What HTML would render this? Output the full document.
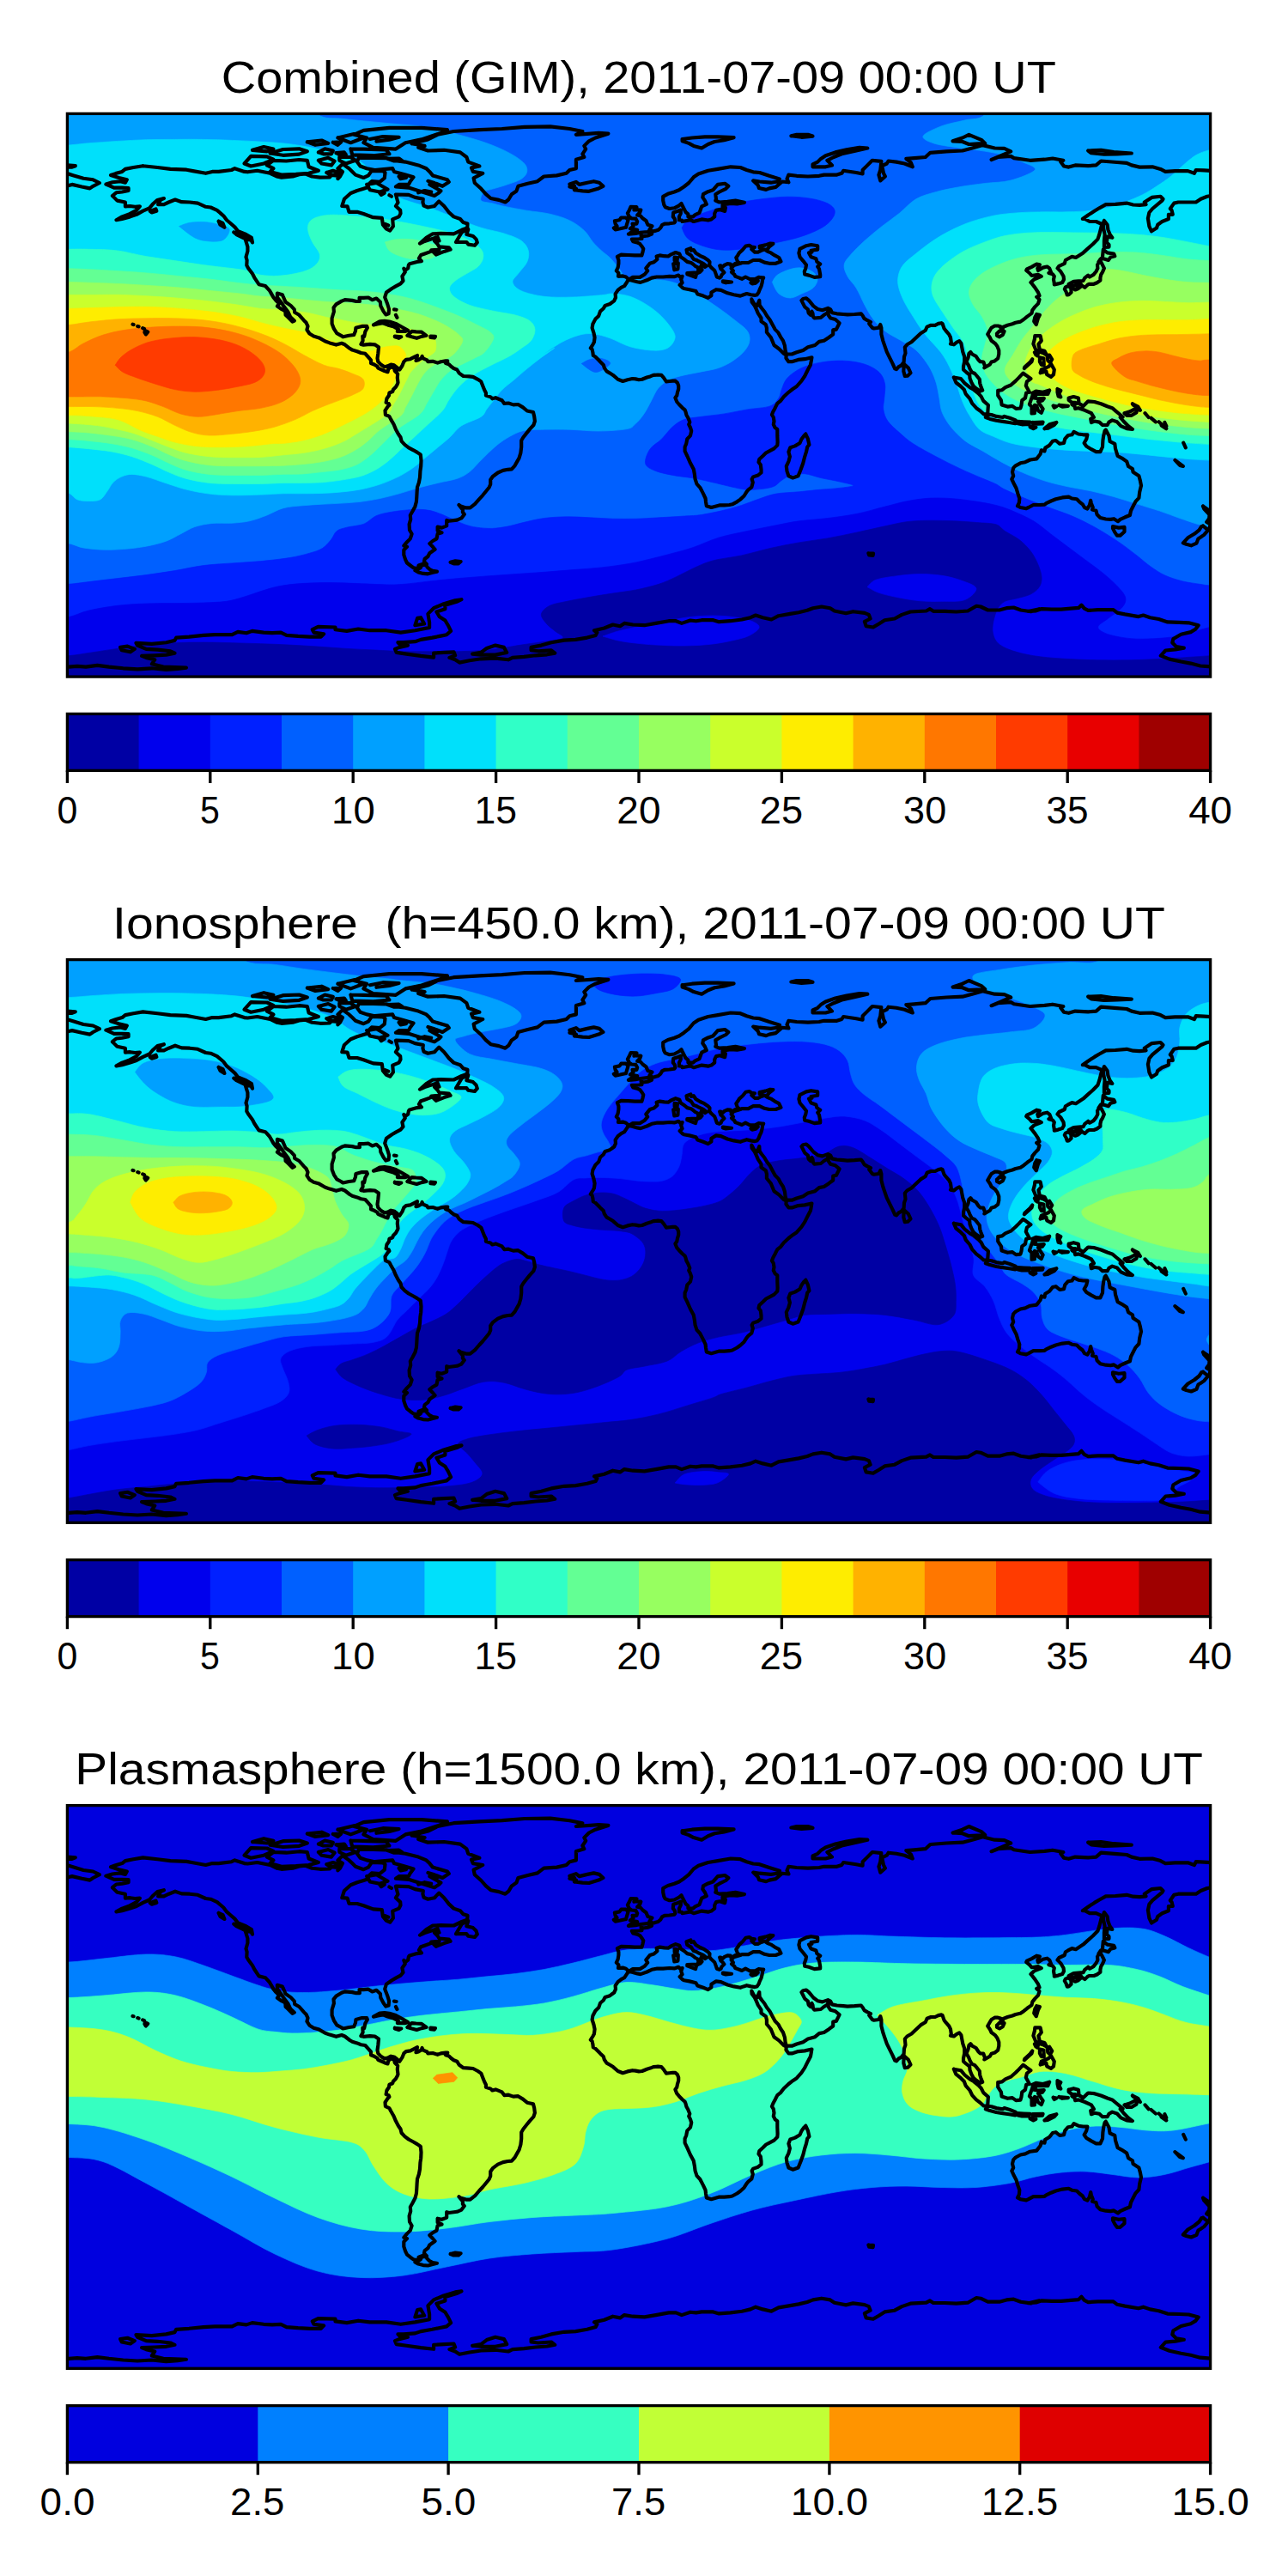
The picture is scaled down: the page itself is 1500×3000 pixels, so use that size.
<!DOCTYPE html>
<html><head><meta charset="utf-8"><title>TEC maps</title>
<style>html,body{margin:0;padding:0;background:#fff}svg{display:block}text{font-family:"Liberation Sans",sans-serif;fill:#000}</style></head>
<body>
<svg width="1500" height="3000" viewBox="0 0 1500 3000">
<rect width="1500" height="3000" fill="#fff"/>
<defs>
<clipPath id="mc"><rect x="0" y="0" width="1331.2" height="655.7"/></clipPath>
<path id="coast" d="M88.1,60.8L105,62.6L120,64.5L138.8,65.3L146.2,66.7L161.2,69.4L168.8,67.5L176.2,67.5L191.2,65.6L195,63.8L206.2,67.5L210,67.9L221.2,66.4L236.2,69.4L243.8,73.1L249.4,74.2L262.5,73.1L270,70.9L277.5,70.1L285,73.1L294.4,74.2L305.6,73.9L307.5,71.6L315,72.4L315,75.8L317.6,73.1L320.6,67.5L315,63.8L320.6,58.5L328.1,63.8L331.9,67.5L335.6,71.2L345,74.6L350.6,72L354.4,66.4L367.5,66.7L370.1,68.6L369.4,75L363.8,79.5L354.4,78.8L352.5,80.6L348.8,86.2L345,87.4L337.5,89.6L330,92.6L322.5,99.4L319.9,107.6L326.2,108L328.1,114.4L337.5,114.4L345,116.6L356.2,120.8L366.4,121.5L367.5,129.4L371.2,133.9L375.8,136.1L379.5,131.2L378.8,123L386.2,120L388.1,116.2L387.8,112.5L382.5,107.6L385.1,103.5L382.5,94.1L397.5,94.5L405,97.5L414.4,99.4L414,103.1L415.1,107.2L420,109.1L427.5,107.6L432.8,102L438.8,107.6L444.4,114.8L450,120L457.5,122.6L461.2,126.7L466.1,128.2L465.8,133.1L459.4,135.4L450,139.9L435,139.5L425.6,139.9L418.1,144.4L410.6,151.1L416.2,148.5L431.2,143.6L433.1,148.1L427.5,148.1L431.2,151.9L433.1,154.9L444.4,156L446.2,158.2L438.8,160.5L429.4,164.2L426.8,161.6L433.1,158.2L423.8,159L423.4,160.5L416.2,163.1L411.8,164.6L409.5,168.4L412.5,171.8L407.2,172.5L398.6,174.8L397.5,176.2L396.8,180L393.8,182.2L391.9,180.4L393.4,184.5L390,189.4L391.1,194.6L388.1,198L382.5,201L378,203.6L371.6,208.1L369.8,213.8L372.8,221.6L374.6,227.6L374.2,232.9L370.9,234L368.2,230.2L364.9,223.9L364.5,219.4L360,215.2L355.1,216.8L350.6,214.1L345,214.5L340.1,214.5L340.5,218.6L336.4,218.6L331.9,217.5L323.2,216.8L319.5,218.2L313.1,222L310.1,225.8L310.5,230.6L308.2,238.1L308.2,244.5L310.5,250.5L313.9,255.8L318.8,258.4L321,259.9L328.1,258.4L333.8,257.6L335.6,253.1L336,249.4L343.1,247.5L348.8,247.5L349.5,249.4L346.9,253.9L345.8,259.5L343.9,259.1L344.2,264.4L342,268.5L345,269.2L352.5,268.5L358.1,268.9L362.6,271.9L361.9,279.4L361.1,285L361.9,288.8L365.6,292.5L369.4,294.8L373.1,294L376.9,292.1L380.6,292.9L384.4,295.9M384.4,298.1L382.9,301.1L381.4,299.6L380.6,296.2L376.9,294.8L373.9,297.4L373.1,300.8L369.4,299.6L364.5,297.4L361.9,296.2L361.1,294.4L357.4,292.1L353.6,290.6L353.6,286.9L350.2,283.1L346.9,279.4L342,278.6L337.5,276.8L331.9,275.2L328.9,273.4L323.2,268.9L319.5,267.4L313.1,269.2L305.6,267L300.4,265.1L293.2,261L286.9,259.1L282,256.1L279,251.6L280.1,247.5L278.2,243.4L275.6,240.8L270,234.4L264.8,231.4L264.4,228L260.2,223.5L254.2,219.4L251.2,212.6L250.5,210.8L244.5,209.2L244.5,213.8L249.4,220.1L252,224.2L256.9,230.6L259.9,237L264.4,241.1L262.1,242.2L256.9,237L254.2,234.4L253.9,229.9L249.4,227.6L244.5,224.2L246.8,221.2L243,217.5L240,213.8L237.4,209.2L235.5,205.9L230.6,200.6L223.1,198.8L217.9,190.9L215.6,186.4L210.8,180L208.9,176.6L209.2,170.6L208.1,166.9L210,160.1L210,154.9L207.4,146.6L213.8,147L215.6,150L214.5,144.4L208.1,140.6L198.8,136.9L195,132L189.4,127.1L185.6,123.8L181.9,118.9L174.4,112.5L166.9,109.1L161.2,108.4L151.9,104.2L142.5,103.1L133.1,102.8L125.6,100.1L118.1,103.1L112.5,105.8L105.7,105.8L108.8,100.1L112.5,98.6L105,100.5L99.4,105.4L95.6,109.9L88.1,113.3L80.6,117.4L73.1,120L63.8,122.6L57,123.8L63.8,120L71.2,117.4L80.6,112.5L84.4,108L78.8,108.4L73.1,107.6L67.5,108L67.5,103.1L58.1,101.2L54.4,97.5L52.5,95.6L57,91.9L63.8,91.1L71.2,89.6L71.2,86.6L63.8,86.2L54.4,86.2L45,82.1L52.5,79.9L61.9,78.8L67.5,80.3L69.4,76.9L60,74.6L50.6,71.6L56.2,69.7L63.8,67.5L67.5,64.5L76.9,62.6L88.1,60.8M384.4,295.9L387,298.1L390,293.6L391.9,288.8L394.5,286.5L399.4,285.8L403.9,283.5L407.6,281.6L406.9,285L406.1,287.6L408.8,286.9L412.5,284.6L413.2,282.4L414.4,285L418.9,286.9L420,288.8L425.6,288.4L431.2,290.2L435,288.8L440.6,288L442.9,288L440.6,290.6L444.4,291.8L447,294.4L450,296.6L453.8,298.1L456.4,302.2L461.2,305.6L468,306L472.5,306.4L478.1,309.4L481.9,312L483.8,316.9L485.6,321.4L487.5,325.1L487.5,328.1L493.1,330L495,331.9L498.8,330.8L506.2,333.8L508.9,337.5L513.8,337.1L519.4,339L525,338.6L530.6,342L535.5,346.1L542.6,347.6L543.8,352.5L544.5,358.1L543,362.6L538.5,367.5L535.5,371.2L531,376.9L528.8,380.6L528.8,388.1L528,394.9L526.1,401.2L523.9,405L521.2,409.9L517.5,414L513,414.4L507.4,415.5L501.4,418.1L495.4,422.6L492.8,426.4L492.8,431.6L491.2,435.4L487.5,439.9L483.8,444.4L479.6,448.9L474.8,454.5L469.1,459L464.2,459L457.5,456.8L456,455.6L460.5,461.2L460.5,464.2L462.4,466.5L459,471L453.8,473.2L444.4,474.4L441.8,473.6L441.8,480L436.1,482.2L431.2,481.1L431.2,485.6L436.1,487.9L431.2,489.4L430.1,495L425.6,497.6L421.9,500.6L425.6,504.4L428.2,507.4L421.9,511.9L420,515.6L416.2,518.6L415.5,521.6L418.5,524.6L414.4,524.2L409.1,526.1L408.8,529.9L403.1,528.8L399.4,526.1L395.6,523.1L393.8,519.4L391.9,513.8L391.9,508.1L395.6,504.4L391.9,503.2L395.6,498.8L399.4,495L401.2,489.4L398.6,484.9L398.2,478.1L399.8,472.5L399.4,467.6L402,463.1L405,457.5L406.5,451.9L406.9,446.2L407.2,440.6L407.6,435L409.5,429.4L410.6,423.4L411,416.2L411.8,410.6L412.1,403.9L411.4,397.1L407.6,394.5L403.1,391.9L397.5,388.9L393,385.5L389.2,381.4L388.1,376.9L385.5,373.1L382.5,367.5L380.2,361.9L376.9,356.2L375,352.5L370.5,350.6L370.1,345.8L373.1,341.2L375,339.4L374.2,337.5L371.2,336.4L372,331.9L374.6,328.1L375,325.1L378.8,323.6L379.5,321.4L382.5,318.4L384.4,315L385.1,313.1L384.4,307.5L384.8,303L382.9,301.1L384.4,298.1L384.4,295.9M417.8,525.8L419.2,528L421.9,530.6L425.6,532.5L430.5,533.2L425.6,534.4L420,535.9L414.4,535.5L408.8,534L405,531.8L408.8,530.2L411.4,528.8L412.5,526.1L415.1,525.4L417.8,525.8M446.2,522.4L451.9,520.9L458.2,521.6L455.6,523.9L450,523.9L446.2,522.4M401.2,34.9L420,30L431.2,24.4L450,20.6L480,18.8L506.2,17.6L532.5,15.4L562.5,15L585,17.6L600,20.6L592.5,24.4L618.8,22.5L630,23.3L615,28.1L607.5,31.9L601.9,37.5L603.8,41.2L600,46.9L601.9,50.6L592.5,53.3L592.5,58.1L592.5,63.8L585,65.6L581.2,69.4L570,72L555,73.1L547.5,78.8L536.2,81.4L525,84.4L523.1,90L517.5,93.8L513.8,100.1L510,103.1L502.5,100.5L493.1,98.6L487.5,93.8L481.9,87.4L474.4,80.6L473.2,75L483.8,69.4L472.5,67.5L470.6,63L480,61.1L466.9,56.2L465,50.6L457.5,45L438.8,42.4L420,43.1L408.8,39.4L416.2,37.5L401.2,34.9M433.1,91.9L427.5,95.6L418.1,92.6L406.9,89.2L397.5,86.2L382.5,85.1L386.2,82.5L397.5,82.5L399.4,78.8L403.1,73.9L393.8,71.2L380.6,67.5L378.8,63.8L358.1,65.6L348.8,63.8L341.2,61.1L337.5,56.2L339.4,51.4L356.2,51.4L371.2,51.7L382.5,54.7L393.8,56.2L408.8,60L418.1,63.8L421.9,67.5L425.6,72L442.5,76.9L444.4,79.5L436.9,84.4L429.4,81.4L421.9,82.5L435,90L433.1,91.9M232.5,60L240,54.4L255,55.1L270,53.6L279.4,54.4L281.2,61.9L292.5,66.4L281.2,69.4L266.2,70.5L249.4,71.2L236.2,67.5L240,63.8L232.5,60M206.2,58.1L213.8,49.5L232.5,49.9L240,53.3L228.8,58.1L213.8,61.1L206.2,58.1M236.2,46.1L251.2,41.6L270,40.9L279.4,43.9L270,47.2L251.2,48.4L236.2,46.1M292.5,54.4L303.8,51.4L311.2,55.1L307.5,60L296.2,58.1L292.5,54.4M316.9,50.6L330,50.6L335.6,54.4L324.4,58.1L316.9,54.4L316.9,50.6M330,40.9L345,41.2L371.2,42L375,46.9L356.2,48.8L331.9,48L330,40.9M356.2,39.4L382.5,41.2L393.8,33.8L412.5,30L435,22.5L442.5,18.8L412.5,16.5L375,16.5L345,19.5L333.8,24.4L348.8,28.1L345,33.8L356.2,39.4M315,28.1L333.8,23.6L345,28.1L330,33.8L315,28.1M348.8,82.5L360,80.6L373.1,88.1L363.8,91.1L352.5,88.9L348.8,82.5M452.6,149.6L459.4,138L466.9,134.6L465,140.6L472.5,142.5L476.2,146.2L477.4,150L474.4,153.4L466.9,152.2L465,149.6L457.5,149.6L452.6,149.6M193.9,138L202.5,140.6L211.9,146.6L206.2,145.1L196.9,140.6L193.9,138M176.2,125.2L181.1,127.5L183,132.4L178.1,129.4L176.2,125.2M96.4,113.6L103.1,111L103.9,113.3L98.2,115.1L96.4,113.6M356.6,246L363.8,241.9L369.4,241.5L375,242.2L382.5,244.5L390,248.6L396.8,252.4L393.8,253.5L384.4,253.5L385.5,250.9L380.6,248.2L373.1,246L367.5,243.8L361.9,244.9L356.6,246M396,258.4L401.2,253.5L406.1,253.9L412.5,254.2L418.1,258.4L412.5,259.5L406.9,261.4L401.2,259.9L396,258.4M381.4,259.1L388.9,259.9L386.2,261.4L381.4,259.9L381.4,259.1M423,259.1L428.6,259.5L427.5,261L423,260.6L423,259.1M380.6,228L383.2,228.4M382.5,234.4L384,237.4M90.4,252.4L93.8,254.2L91.5,256.9L90,254.6L90.4,252.4M87.8,249.7L89.6,250.5M81.8,247.5L83.2,247.9M76.1,245.3L77.2,245.6M215.6,42.4L228.8,38.6L240,41.2L232.5,43.9L215.6,42.4M292.5,45L300,40.9L309.4,43.1L307.5,46.9L298.1,46.9L292.5,45M313.1,45.8L322.5,45L324.4,47.6L316.9,47.6L313.1,45.8M301.9,68.6L309.4,66.4L316.9,68.6L313.1,71.2L305.6,70.9L301.9,68.6M386.2,73.1L391.9,72.4L394.5,74.6L388.1,75.8L386.2,73.1M373.1,52.5L386.2,52.1L390,54.7L380.6,55.1L373.1,52.5M279.4,33L296.2,31.1L303.8,34.5L288.8,36.4L279.4,33M309.4,33.4L318.8,33L315,36.4L309.4,33.4M363.8,92.2L369.4,92.2L365.6,94.5L363.8,92.2M375,94.9L377.6,96.4M352.5,29.6L367.5,26.6L386.2,27.4L375,30.4L360,32.2M420,78.4L427.5,80.6L431.2,83.6M408.8,91.9L416.2,89.6L423.8,91.1M370.1,128.6L373.9,130.1M803.2,210.8L800.6,211.5L796.1,210.8L791.2,209.6L787.5,210.8L783.8,212.2L776.2,210.8L768.8,208.9L761.2,205.5L755.6,204.8L750,208.1L750,211.9L746.2,214.5L740.6,212.2L733.9,210L732,206.6L724.5,204.8L718.1,203.6L716.2,202.5L713.2,199.5L716.2,196.9L714.8,193.1L716.2,189.4L713.6,190.1L711.8,188.2L706.9,189.8L701.2,189.4L693.8,190.1L686.2,190.1L680.6,191.2L675,193.9L667.5,196.5L663.8,195.8L655.1,193.5L652.9,193.9L651.8,196.1L648.8,200.6L645,202.5L641.2,205.5L638.2,210L638.6,214.1L636.8,217.9L631.9,221.6L626.2,223.5L624.4,226.9L620.6,230.2L618.8,235.5L615,239.2L612,244.9L611.2,249.4L613.1,255.4L614.2,260.6L613.5,266.2L612,268.9L609.4,273L611.2,274.5L612,278.2L612.4,281.6L615,283.1L618.8,286.9L620.6,288.8L624.4,292.5L625.5,296.2L628.1,300L631.9,302.2L635.6,304.5L641.2,309.4L646.9,311.6L652.5,309.8L658.1,308.6L661.9,309L665.6,309.8L669.4,309.4L675,307.1L678.8,306L682.5,304.5L687.8,304.1L691.9,304.5L694.5,307.5L697.5,312L701.2,311.6L705,311.2L708,311.2L710.6,313.5L711.8,316.9L711.8,320.6L710.6,324.4L709.9,328.1L708,330.8L709.9,335.6L712.5,338.6L716.2,342.4L719.2,345L720,346.9L721.1,351L723,354.4L724.9,359.2L723.8,361.9L725.6,365.6L726.8,369.4L725.6,375L721.9,378.8L720.8,384.4L719.2,388.1L719.2,393L721.9,398.6L725.6,406.9L729.4,414L730.5,420L731.2,425.6L733.1,431.2L736.9,435.4L740.6,442.5L743.2,448.1L743.6,451.9L744.4,456.8L750,458.6L759.4,456L765,456L771,455.6L774.4,454.9L780,451.9L783.8,449.2L788.2,445.1L791.2,440.2L793.1,438L796.9,435L798.4,429.4L797.2,425.6L798.8,423L804.4,421.1L808.1,418.1L808.1,414.4L807.4,408.8L805.1,405.8L805.9,402.4L810,398.6L813.8,394.9L817.5,393L823.1,390L826.9,386.2L827.2,382.5L826.9,375L826.9,367.5L824.2,365.6L822.4,361.9L823.1,358.1L822.4,353.6L820.5,350.6L822,346.9L823.9,343.5L825,341.2L826.9,337.5L830.6,334.5L834.4,329.6L840,324.4L844.9,320.6L849.4,317.6L855,311.2L858.8,305.6L862.5,298.1L865.5,292.5L866.2,288.8L867,283.9L858.8,285.8L851.2,286.5L843.8,288.8L840,288.8L837,284.6L837.4,281.2L834.4,279.4L828.8,273.8L823.1,269.6L819.4,260.6L814.5,254.6L814.5,249.4L813.4,245.6L808.1,241.9L808.1,238.1L804.4,232.5L802.5,228L800.6,223.9L797.2,219.4L796.9,216L799.5,220.9L803.2,223.9L805.9,217.5M805.9,217.5L806.2,223.1L808.9,226.9L811.9,230.6L814.5,235.1L818.2,240L821.2,245.6L824.2,251.2L828,255L830.6,259.9L833.6,264.4L835.5,270L836.2,275.6L837.4,280.1L843.8,280.1L849.4,277.9L856.9,275.6L862.5,271.9L870.8,269.6L875.6,265.5L881.2,264.4L886.9,260.6L891.8,256.9L891.8,252L895.5,251.2L899.2,243.8L894.4,239.6L888.8,238.1L886.5,234.8L886.1,229.9L885,232.1L881.2,234.4L877.5,237.4L870,238.1L868.5,236.2L868.1,232.5L867,230.2L865.5,234.4L863.2,232.1L862.5,228L858.8,225L856.9,221.2L855,217.5L856.9,215.6L860.6,214.9L863.6,217.5L865.5,219.8L868.9,223.9L873.8,227.6L879.4,228.8L885.8,226.5L888.8,228L890.6,231.8L896.2,232.9L903.8,233.6L908.6,234L916.9,233.6L924.4,232.9L926.2,235.1L928.1,238.5L931.9,240.8L935.6,242.6L933.8,244.5L937.5,249.4L939.4,250.1L945,249.4L946.9,245.6L948,249.4L948,256.9L949.9,264.4L951.8,270L954.4,277.5L958.1,285L961.1,291L963.8,297L965.6,297.8L968.2,294.8L971.2,293.2L974.2,289.5L974.6,283.1L976.1,279L975.4,271.9L978,268.9L983.2,265.9L987.4,261.8L993.8,255.8L999.4,252.4L1001.2,248.2L1005.8,246.4L1010.6,246.4L1014.4,244.5L1018.1,243.8L1019.2,244.5L1021.1,250.1L1023.4,253.1L1026.8,256.9L1028.6,260.6L1029.4,266.2L1028.6,268.1L1032.4,268.9L1035.8,266.2L1038.8,264.8L1041,267.4L1041.8,271.9L1042.9,277.5L1044.8,283.1L1044.8,288.8L1043.6,294.4L1043.6,298.1L1047,301.1L1050.8,304.1L1051.1,308.2L1053,313.1L1055.2,317.2L1058.2,319.9L1063.1,323.2L1065.8,322.1L1064.2,318.4L1062.8,313.9L1062.4,309.4L1059.4,305.6L1056.8,302.6L1053.4,301.1L1051.1,297L1049.6,293.2L1047,288.8L1049.2,283.9L1050,279.4L1051.9,277.5L1053.8,280.1L1058.2,282.4L1061.2,286.9L1063.1,288.8L1066.9,289.1L1068.8,294.4L1068,295.9L1070.6,294.4L1074.4,292.1L1076.2,289.1L1080,288L1083.8,285L1084.9,280.1L1084.9,275.6L1083,270.8L1080.8,267.8L1076.2,264.4L1074.4,260.6L1071.8,256.9L1074.4,252.4L1076.2,249.4L1080,247.1L1083.8,247.1L1086.8,247.9L1087.5,251.6L1089.4,252L1089.4,248.6L1095,246.4L1100.6,244.9L1104.4,243.4L1110,242.2L1113.8,239.6L1117.9,236.2L1123.1,232.5L1123.9,228.8L1126.9,225L1130.6,221.2L1132.1,216.4L1128.8,213.4L1132.1,211.9L1130.6,208.1L1126.9,202.5L1123.1,197.6L1122,196.5L1126.1,192.8L1134.4,189.4L1130.6,187.5L1123.1,188.6L1120.5,185.6L1116.8,182.6L1117.5,181.1L1123.1,178.5L1128.8,175.1L1132.5,175.9L1129.9,180L1130.6,182.6L1136.2,179.2L1141.1,178.1L1143.8,180L1145.6,184.5L1143,185.6L1147.5,186.8L1149.4,189.4L1148.6,193.1L1149.4,197.6L1149.4,199.1L1153.9,198L1158.8,196.5L1160.6,193.1L1160.2,189.4L1156.9,183.8L1153.1,180L1155,177.4L1161.4,174.4L1162.5,170.6L1165.1,169.1L1170,166.5L1174.5,167.6L1183.1,162L1188,157.5L1194.4,151.9L1200,146.2L1201.9,140.6L1203.8,133.1L1204.9,128.6L1198.1,125.6L1190.6,125.6L1185,122.6L1182.4,122.6L1188.8,118.1L1196.2,113.3L1201.9,109.9L1209.4,105.8L1220.6,105.4L1233.8,104.2L1241.2,106.1L1248.8,106.5L1256.2,105.8L1254.4,103.1L1263,97.5L1273.1,96.4L1276.1,99.4L1275,101.2L1263.8,110.6L1260,115.1L1258.5,121.9L1260,131.2L1262.6,136.9L1268.6,133.1L1269.8,129.4L1275,125.6L1282.5,122.6L1282.5,117.4L1287.4,117.4L1286.2,112.5L1284.4,110.6L1288.9,104.2L1293.8,103.1L1298.6,103.1L1314.4,103.1L1320,99.4L1327.5,96.4L1338.8,94.5L1348.1,93.4L1347.4,88.1L1340.6,86.2L1344.4,84.4L1350,84M0,84L5.6,82.5L16.9,85.1L26.2,87L30,84.4L37.5,80.6L30,76.9L18.8,75.4L7.5,72L0,69.7M1350,69.7L1342.5,68.3L1335,66.7L1323.8,66L1314.4,65.6L1312.5,69.4L1305,66.7L1290,66.7L1278.8,67.5L1273.1,64.5L1263.8,61.9L1248.8,62.2L1239.4,60L1233.8,57.4L1222.5,56.6L1203.8,55.1L1198.1,60L1188.8,60.8L1173.8,60L1166.2,62.2L1160.6,61.1L1156.9,56.2L1159.9,54.4L1147.5,52.1L1138.1,53.3L1121.2,54.4L1102.5,51.7L1098.8,49.5L1083.8,50.6L1076.2,53.6L1087.5,48.8L1098.8,43.9L1091.2,40.5L1080,40.1L1066.1,36.7L1053.8,40.1L1042.5,43.1L1023.8,43.9L1005,45.4L999.4,50.6L986.2,51.7L976.9,52.5L982.5,57L984.4,61.9L975,58.1L965.6,56.2L956.2,55.1L954.4,58.1L948.8,60.8L950.6,69.4L952.5,73.1L946.9,78L945,71.2L946.9,65.6L948,55.5L937.5,54.4L931.9,60L926.2,65.6L926.2,70.1L918.8,68.6L903.8,66.4L901.9,69.4L896.2,71.2L881.2,71.2L875.6,72.4L862.5,73.1L849.4,72.4L840,71.2L838.1,75.8L840,79.9L832.5,79.1L825,85.5L817.5,87L813.8,88.5L805.5,86.6L804.4,83.3L798.8,78L806.2,79.1L819.4,80.3L826.9,79.1L829.5,76.1L817.5,72.4L806.2,68.6L798.8,67.9L791.2,65.6L783.8,62.6L772.5,61.9L757.5,64.5L746.2,66.4L735,70.1L729.4,73.9L723.8,80.6L718.1,85.1L712.5,88.9L706.9,91.1L699.4,93.4L693.8,96.4L693.8,101.2L694.9,106.1L696.4,108.8L701.2,110.6L706.9,109.9L712.5,106.9L715.1,104.6L716.2,106.9L718.1,110.6L720,114.4L723,117L723,120L728.6,120L731.2,117.8L736.1,115.5L737.6,111.4L738.8,108L744.4,105.4L742.5,101.2L739.9,97.5L740.6,93.8L746.2,90.8L751.9,88.9L754.9,85.5L757.5,82.5L765.8,81.4L769.9,84.4L766.9,87.4L759.4,91.1L754.9,93.8L755.6,99.4L754.9,101.2L759.4,103.1L768.8,102.4L778.1,101.2L783.8,102.4L788.6,103.5L780,105L772.5,104.6L767.6,105.4L763.1,106.1L763.1,109.1L766.5,109.5L765.8,113.6L759.8,111.7L755.6,112.5L753.8,116.2L753.8,120L750,123L746.2,124.1L744.8,123.8L738.8,123L729.4,125.6L725.6,123.8L720,124.9L716.2,125.6L715.5,124.1L712.5,123.8L712.5,120L714.4,116.2L714.4,112.1L710.6,113.6L705.8,115.1L705.4,120L707.2,122.2L708,125.6L706.9,127.1L701.2,127.9L695.6,128.2L692.6,129.8L690.8,133.1L688.1,135.4L684.4,136.5L681,137.2L680.6,140.2L675.8,142.1L670.5,142.9L668.2,141.8L669,145.5L665.6,145.9L657.4,146.2L658.9,148.9L664.5,150.4L666.8,151.5L669.4,154.9L670.9,157.5L670.1,161.2L669,165L660.8,165L653.2,164.6L645,164.2L640.5,166.5L642,170.6L642,174.4L641.2,179.2L639.4,183L642,185.6L641.6,189.4L646.9,189L650.6,190.1L654,193.1L658.5,190.5L666.8,190.5L672.4,187.1L675.8,183L673.9,180L678.4,174.4L683.2,172.9L687,169.5L686.2,166.1L690,165L695.2,165.8L699.8,166.1L703.1,163.9L708.4,161.6L712.9,163.1L714.4,166.9L718.9,169.9L721.9,172.5L726.4,173.6L728.6,175.1L731.2,177.4L734.2,178.9L735,181.9L733.9,185.6L737.2,184.1L739.1,181.9L737.2,179.2L738.8,176.2L742.5,178.5L744.4,177.4L740.6,174.4L735,171.8L733.1,170.6L729.4,169.5L726.4,165L721.9,162.4L721.1,158.6L726,156.8L726.4,159.4L729.4,158.6L732,162.4L736.9,165.4L741.8,167.6L746.2,170.6L748.1,172.5L747.8,176.6L750,179.2L753.8,182.6L754.5,184.5L755.6,187.5L756.4,190.1L759.4,191.2L761.2,190.1L762,187.9L763.9,186L765,184.9L763.1,182.6L760.9,180.8L759.8,177L761.2,177L763.1,178.5L765,176.6L768.8,174.8L772.5,175.1L773.2,177.8L775.5,176.2L778.1,174.4L783.8,174.4L780.8,172.5L780,170.6L778.9,167.6L780.8,165L782.6,162L786.4,158.6L790.1,154.1L794.2,153.4L796.9,155.2L800.6,155.6L796.9,157.9L800.6,161.2L804.4,161.2L808.1,159.4L811.9,158.2L806.2,156.4L806.2,154.5L813,153L818.6,151.1L822,151.5L817.5,154.9L815.6,157.5L813,158.6L815.6,160.5L819.4,162L823.9,165L828.8,167.6L831,172.1L825,174.4L817.5,174.4L811.9,173.2L806.2,170.6L798.8,170.6L793.1,173.6L785.6,173.6L783.8,174.4L776.2,176.6L773.2,180L775.5,183L773.6,184.5L777,187.5L777.8,189.4L780.8,190.5L785.6,192.4L789.8,190.1L795,192.8L801.4,192.4L805.1,190.5L809.2,190.9L810.8,190.9L809.6,193.5L809.2,196.9L808.1,201L806.2,205.1L805.1,208.1L803.2,210.8M853.1,157.5L860.6,153.8L866.2,152.6L873.8,153.8L873.8,158.2L866.2,159.4L867,161.2L863.6,162L866.2,166.9L871.9,168.8L873,172.5L876.8,175.1L873.8,178.1L875.6,180.8L876.8,187.5L876.8,189.8L870,190.5L863.6,188.2L858.8,187.1L858.4,183.8L859.9,180L860.6,176.2L856.9,171.4L853.1,166.9L852,162.4L853.1,157.5M653.6,140.2L661.9,139.5L667.5,138.4L675.8,137.6L680.2,136.1L678,135L681,130.9L676.1,129.4L675,127.1L674.2,124.9L670.1,121.9L667.5,118.9L663.8,118.1L666.8,115.1L667.9,112.1L661.9,111.7L660,112.1L663,108.8L656.2,108.4L654.4,112.5L652.5,115.9L654.4,120L657,121.9L661.9,122.2L663.8,125.6L663,128.2L658.1,128.2L659.2,131.2L655.5,133.9L660,134.6L663.8,135.4L658.9,136.5L653.6,140.2M650.6,132.4L651.8,128.2L653.2,123.8L650.6,121.1L645,121.1L643.1,123.8L637.5,124.9L638.2,128.2L640.1,130.9L636.4,133.1L638.2,135L643.9,133.9L650.6,132.4M590.6,88.9L600,90L607.5,90.4L618.8,87L624,84.4L619.5,80.3L613.1,78.8L605.6,80.3L596.2,82.5L592.5,79.5L585,82.1L590.6,84.4L585,85.1L592.5,87L590.6,88.9M716.2,29.6L727.5,28.1L742.5,27L757.5,27L776.2,27.8L765,30.8L753.8,32.6L746.2,35.6L738.8,40.1L729.4,37.5L723.8,34.5L716.2,31.9L716.2,29.6M868.1,61.9L873.8,61.9L883.1,61.9L890.6,60L885,54.4L892.5,50.6L901.9,46.9L918.8,43.1L931.9,40.1L922.5,39.4L907.5,42L894.4,45L883.1,48.8L877.5,52.5L873.8,56.2L868.1,58.9L868.1,61.9M843,25.9L855,27.4L868.1,26.2L862.5,24.4L849.4,24.4L843,25.9M1031.2,31.9L1042.5,28.1L1050,24.4L1065,30.8L1068.8,34.5L1050,35.6L1042.5,32.6L1031.2,31.9M1188.8,43.1L1203.8,42.4L1218.8,44.6L1239.4,46.1L1222.5,46.9L1207.5,47.2L1192.5,45.8L1188.8,43.1M0,60L9.4,60.8L5.6,62.2L0,62.2M1207.5,124.5L1211.2,129.4L1212,135L1214.2,140.6L1216.9,144.4L1211.2,143.2L1210.5,150L1213.1,152.6L1213.1,155.2L1207.5,155.6L1207.5,148.1L1208.2,140.6L1206.8,133.9L1206.4,128.2L1207.5,124.5M1201.1,172.5L1205.6,166.9L1206.4,158.2L1211.2,162L1218.8,163.1L1219.9,165.8L1215,167.2L1212.4,170.6L1206.8,168.8L1203.4,169.1L1201.1,172.5M1203.8,172.9L1205.6,176.2L1207.5,180L1205.6,184.5L1203.8,187.5L1203,191.2L1203,194.2L1199.2,196.9L1195.5,198.4L1189.9,198.4L1188,199.5L1185,202.5L1181.2,199.9L1180.1,198L1173.8,199.5L1170,200.6L1166.2,200.6L1166.2,198.4L1171.9,195.4L1177.5,195L1183.1,194.6L1185,191.2L1188.8,188.2L1190.6,190.1L1195.1,187.5L1198.1,183.8L1200,180L1199.6,176.2L1201.1,173.6L1203.8,172.9M1165.9,200.6L1168.9,203.2L1169.2,208.1L1166.2,210.8L1164.4,211.1L1163.2,207.4L1161.4,204.4L1162.5,202.1L1165.9,200.6M1171.9,200.6L1179.4,199.5L1180.1,201.4L1177.5,203.6L1173.8,205.1L1171.1,203.2L1171.9,200.6M1128.8,233.6L1132.5,234.4L1130.6,238.1L1128.4,245.6L1125.8,241.9L1126.9,237L1128.8,233.6M1082.6,256.1L1085.6,253.1L1091.2,253.5L1089.4,257.6L1085.6,259.9L1082.6,258.4L1082.6,256.1M974.2,291.4L979.5,296.2L982.1,301.9L978.8,305.2L975.4,305.6L973.9,300L974.2,294.4L974.2,291.4M859.9,373.1L862.5,378.8L864,385.5L861.8,388.1L860.6,393.8L858.8,399.4L856.9,406.9L854.2,414.4L851.2,421.9L844.9,424.1L840,421.9L838.1,416.2L837.4,410.6L840,405L841.5,399.4L840,393.8L841.9,388.9L847.5,387L853.1,383.6L855,379.1L858,375L859.9,373.1M721.9,185.6L733.1,184.9L731.6,190.5L721.9,186.8L721.9,185.6M705.8,174.8L711.4,174L711,181.1L706.9,181.9L705.8,174.8M707.2,167.2L710.6,167.6L709.9,172.9L707.2,171L707.2,167.2M763.5,195L773.6,196.1L766.9,196.9L763.5,195.8L763.5,195M796.1,196.9L804.4,194.6L801.8,197.2L797.6,198L796.1,196.9M1083.8,322.5L1088.6,321.8L1092.4,318.8L1098.8,316.1L1104.4,311.2L1108.1,307.5L1113,302.2L1116.4,304.5L1122,308.6L1117.5,312L1116.4,316.9L1120.5,324.4L1116.8,325.1L1115.6,331.1L1111.9,333.8L1111.1,339.4L1110,343.1L1104.8,343.5L1100.6,340.5L1095,341.2L1088.2,339L1087.5,333.8L1083.8,328.1L1083.8,322.5M1032.4,307.1L1040.6,308.6L1045.1,313.9L1051.1,318.8L1055.6,321.4L1061.2,325.9L1064.2,329.2L1066.9,334.5L1072.5,339.4L1072.1,345L1071.8,349.9L1067.2,349.9L1063.1,346.1L1058.6,342.8L1053.8,337.5L1051.1,331.9L1046.2,326.2L1044.4,321.4L1040.6,317.6L1035,313.1L1032.4,307.1M1069.5,353.6L1072.5,350.2L1076.2,350.6L1081.9,352.5L1089.4,353.6L1091.2,352.5L1097.6,354.4L1104.4,357L1104,360.8L1096.9,359.6L1089.4,358.5L1081.9,357.4L1074.4,355.5L1069.5,353.6M1107,358.5L1113.8,358.9L1121.2,359.2L1119.4,361.5L1111.9,361.9L1107,360.8L1107,358.5M1124.2,359.6L1136.2,359.2L1135.5,361.1L1125,361.5L1124.2,359.6M1138.1,366.8L1143.8,361.9L1152,359.6L1149.4,362.6L1141.9,366.4L1138.1,366.8M1121.2,363.8L1128,365.2L1125,366.8L1121.2,364.9L1121.2,363.8M1124.2,325.1L1128,323.2L1136.2,324.4L1143.8,322.1L1141.9,326.6L1136.2,326.6L1128.8,326.6L1125.8,331.1L1130.6,331.9L1137.4,331.5L1135.5,334.1L1130.6,335.2L1133.6,340.1L1136.2,343.9L1134.4,348.4L1130.6,345.8L1128.8,340.1L1126.5,339.4L1126.5,348.8L1123.1,349.1L1123.1,341.2L1120.5,338.6L1122.4,333L1124.2,328.1L1124.2,325.1M1153.1,320.6L1156.9,322.5L1155,326.2L1156.9,330L1154.2,329.2L1153.1,324.4L1153.1,320.6M1155,339.4L1165.5,340.5L1158.8,341.2L1155,339.4M1148.2,340.1L1152,340.9L1149.4,342.4L1148.2,340.1M1166.2,331.1L1171.9,329.6L1177.5,331.1L1178.2,337.5L1183.1,340.5L1188.8,334.9L1196.2,335.6L1203.8,337.9L1211.2,340.9L1216.9,342.8L1221.8,346.9L1226.2,350.6L1229.2,353.2L1226.2,353.6L1230,358.1L1235.6,363.8L1240.5,367.5L1233.8,366.8L1227,363.8L1222.5,358.9L1216.9,357L1213.1,359.2L1211.2,362.6L1205.6,362.6L1201.9,359.2L1196.2,358.1L1192.5,359.6L1191.8,355.5L1195.5,353.6L1192.5,348.8L1185,345.4L1177.5,342.8L1173.8,343.5L1173,340.5L1170,338.6L1175.6,337.5L1173.8,336.4L1170,336.4L1166.2,333.4L1166.2,331.1M1231.1,348.8L1237.5,346.9L1243.1,343.9L1246.1,344.2L1245,348L1239.4,351.4L1233.8,351.4L1231.1,348.8M1240.5,337.9L1246.9,341.2L1249.5,345.4L1247.6,343.1L1241.2,339L1240.5,337.9M1255.1,348.8L1259.2,353.6M1262.2,354.4L1267.5,358.9M1271.2,358.9L1276.9,364.1M1274.2,363L1279.9,366.8M1278,359.6L1279.9,363.8M1299.8,383.2L1302.4,388.9M1290,403.5L1299.4,410.6L1295.6,409.5L1290,403.5M1126.9,258.8L1133.2,258.8L1134.4,264.4L1131,268.5L1132.5,274.9L1138.1,276.4L1140.4,280.9L1136.2,278.6L1130.6,276.8L1127.6,274.5L1126.9,272.6L1125,268.1L1126.5,262.5L1126.9,258.8M1145.6,291.4L1149.4,298.1L1148.6,303.8L1145.6,306.4L1140.8,303.8L1140,300L1133.2,301.9L1134.4,298.1L1138.9,296.2L1143,294.4L1145.6,291.4M1143.8,281.2L1146.8,286.1L1144.5,289.9L1141.9,287.6L1141.1,281.6L1143.8,281.2M1132.5,283.9L1137,285L1137.4,292.5L1134.4,292.5L1132.5,288.8L1132.5,283.9M1114.5,296.6L1123.1,288.8L1123.9,285.8L1121.2,289.5L1114.9,295.1L1114.5,296.6M1126.5,277.9L1130.6,279L1129.9,282L1128,280.9L1126.5,277.9M1209.4,368.2L1213.1,375L1214.2,381.8L1219.9,384.4L1220.6,390L1223.2,398.6L1228.1,401.2L1233.8,405L1235.6,410.6L1240.5,413.6L1241.2,417.4L1248,421.9L1249.5,427.5L1250.6,433.1L1248.8,440.6L1248,447.4L1244.2,451.5L1242,455.6L1238.6,462.4L1237.5,467.6L1231.9,469.9L1226.2,472.5L1223.6,474.8L1218.8,471.8L1215,472.5L1209.4,472.1L1203,470.6L1199.2,466.9L1198.1,462.4L1193.6,461.2L1194.4,458.6L1192.5,453.8L1191.8,450.4L1190.6,455.6L1188,460.1L1184.6,458.6L1182.4,454.9L1178.6,451.9L1175.6,448.9L1170,448.1L1166.2,446.2L1158.8,447L1151.2,448.9L1145.6,451.1L1140,453.8L1138.1,455.2L1132.5,455.6L1125,455.6L1119.4,458.6L1116.8,459.8L1110,458.6L1106.6,456.8L1108.5,453L1108.9,448.1L1107,442.5L1105.1,436.1L1102.5,431.2L1099.9,425.6L1101.8,421.9L1100.6,417.4L1101.8,412.5L1104.4,409.9L1110,406.9L1115.6,405.8L1121.2,403.1L1128.8,402L1133.2,396.4L1134.4,391.9L1138.1,393L1138.9,389.2L1143.8,386.2L1147.5,381.4L1151.2,380.6L1155.8,384.4L1160.6,383.6L1161.8,378.8L1165.5,374.6L1170,373.9L1172.2,370.5L1177.5,373.1L1183.1,373.9L1188,373.9L1186.9,378.8L1184.2,383.6L1186.9,387.4L1192.5,390.8L1198.1,393.8L1203,393.8L1205.6,388.1L1206,380.6L1206.8,375L1208.2,369.4L1209.4,368.2M1217.6,480.7L1224.4,482.2L1231.1,481.5L1231.1,486.8L1226.2,491.2L1222.5,491.2L1219.9,487.5L1217.6,483L1217.6,480.7M1322.6,457.1L1328.6,461.2L1333.1,465L1335,469.1L1342.5,469.1L1343.6,472.5L1338.8,475.5L1338,480L1332.4,484.1L1330.1,483L1331.2,478.1L1326.8,475.5L1329.8,471.4L1330.1,466.9L1323.8,460.1L1322.6,457.1M1322.6,480L1328.6,484.9L1323.8,490.5L1320,493.1L1317,495L1315.1,500.2L1308.8,502.9L1303.1,501.4L1299.4,499.9L1305,493.9L1312.5,489.4L1318.1,484.9L1320.8,480.7L1322.6,480M933,511.9L938.6,512.2L938.2,514.5L933.8,514.1L933,511.9M1.6,644.2L11.6,643.5L21.6,644.2L35,642.5L48.4,644.2L65,645.9L81.7,646.9L98.4,645.9L115.1,647.6L128.5,646.6L138.5,645.2L111.8,644.2L98.4,640.9L101.8,635.9L91.8,633.5L86.7,631.5L101.8,630.9L115.1,630.2L125.1,628.2L120.1,625.9L105.1,624.2L91.8,623.5L81.7,619.2L80.1,616.5L98.4,617.5L115.1,615.8L125.1,613.5L126.8,610.2L141.8,609.2L158.5,607.5L171.9,606.8L191.9,606.8L198.6,603.5L208.6,604.8L215.3,602.5L228.6,604.2L238.6,604.8L248.7,604.2L255.3,607.5L268.7,608.5L282.1,609.2L295.4,609.2L298.7,605.8L287.1,604.2L285.4,600.8L292.1,597.5L312.1,598.1L312.1,600.8L325.5,602.5L338.8,600.1L352.2,601.8L371.6,601.8L388.3,604.2L405,601.8L421.7,598.5L421.7,592.5L420,582.5L426.7,575.8L438.4,570.8L451.7,566.8L459.1,565.8L453.4,568.4L440,572.4L440,576.8L430,580.1L433.4,585.8L440,590.1L443.4,595.8L446.7,602.5L441.7,606.8L435,608.2L425,610.2L411.7,612.5L405,614.8L391.6,615.8L385,615.8L388.3,619.2L396.6,619.2L386.6,621.5L381.6,623.5L383.3,627.5L395,629.2L411.7,631.5L426.7,633.2L426.7,628.2L438.4,627.5L450.1,626.9L451.7,630.9L445,633.5L451.7,635.9L456.7,639.2L468.4,636.9L481.8,634.9L498.5,634.2L513.5,635.9L518.5,633.5L531.8,632.5L545.2,630.9L558.6,629.9L567.9,628.2L563.6,624.9L548.5,625.9L540.2,624.9L540.2,621.5L551.9,619.2L563.6,615.8L578.6,613.2L591.9,612.5L605.3,610.2L615.3,607.5L617,604.2L613.6,601.8L625.3,599.1L635.3,595.1L643.7,596.8L648.7,593.5L658.7,595.1L672.1,595.8L685.4,593.5L700.4,590.8L708.8,590.8L715.5,593.5L725.5,590.1L732.2,590.8L738.8,589.8L752.2,589.8L758.9,591.8L772.2,590.8L785.6,589.1L795.6,586.8L801.6,584.1L810,586.8L820,589.1L828.3,584.8L841.7,582.5L851.7,580.8L861.7,578.4L868.4,575.8L878.4,574.1L888.4,575.8L893.4,579.1L906.8,581.8L915.1,579.8L928.5,581.5L933.5,583.5L935.2,588.1L928.5,591.5L930.2,596.8L938.5,598.1L945.2,594.1L951.9,589.8L963.5,588.1L971.9,583.5L981.9,580.1L1000.3,579.1L1004.6,576.8L1008.6,579.4L1022,579.4L1035.3,580.1L1048.7,579.1L1058.7,573.4L1063.7,574.1L1072.1,578.1L1085.4,578.1L1093.8,575.8L1102.1,575.1L1110.4,578.1L1122.1,579.8L1132.1,576.8L1119.1,579.6L1128.2,578.9L1134.9,576.7L1146.2,577.3L1157.4,577.3L1168.7,576.2L1177.7,575.5L1181.1,572.2L1184.4,576.2L1188.9,578.5L1200.2,577.8L1218.2,577.8L1222.7,581.2L1231.7,583L1247.5,585.7L1253.1,584.1L1261,586.8L1271.1,588.6L1281.3,592L1294.8,592.4L1306,592.9L1317.3,595.8L1313.9,600.3L1308.3,603.7L1297,606.4L1288,611.6L1286.9,616.1L1291.4,620.6L1300.4,622.2L1290.3,624L1279,625.1L1273.4,631.2L1283.5,635.2L1297,638.1L1308.3,640.2L1319.5,643.1L1335.3,644.2M61.7,621.5L70.1,620.2L78.4,623.5L73.4,626.9L63.4,624.9L61.7,621.5M471.8,629.2L481.8,627.5L488.4,622.5L498.5,619.2L508.5,621.5L511.8,627.5L498.5,630.2L481.8,630.2L471.8,629.2M405,595.8L407.7,587.5L411.7,586.8L415.7,594.1L405,595.8" fill="none" stroke="#000" stroke-width="4.17" stroke-linejoin="round" stroke-linecap="round"/>
</defs>
<g transform="translate(78.4,132.4)">
<g clip-path="url(#mc)">
<rect x="-2" y="-2" width="1335.2" height="659.7" fill="#0060ff"/>
<path d="M-28.4,549.5C-23.4,549.3 -7.3,548.6 1.6,547.9C10.5,547.2 15.5,546.3 25,545.2C34.4,544.1 47.2,542.5 58.4,541.2C69.5,539.9 80.6,538.7 91.8,537.2C102.9,535.7 114,534 125.1,532.2C136.3,530.4 147.4,527.6 158.5,526.2C169.7,524.7 180.8,524.3 191.9,523.5C203,522.7 214.2,522.2 225.3,521.2C236.4,520.1 249.2,518.7 258.7,517.2C268.1,515.6 275.7,513.7 282.1,511.8C288.4,510 292.9,508.8 297.1,506.1C301.2,503.5 304.3,499.5 307.1,496.1C309.9,492.8 310.7,488.5 313.8,486.1C316.8,483.7 320.2,483.2 325.5,481.8C330.7,480.4 339.8,480 345.5,477.8C351.2,475.5 354.3,470.6 359.7,468.3C365,466 371.7,464.9 377.7,463.8C383.7,462.7 390.4,462.1 395.7,461.6C401,461.1 404.7,460.8 409.2,460.9C413.7,461 418.2,461.3 422.7,462.2C427.2,463.2 431.7,465 436.2,466.7C440.7,468.5 445.2,470.9 449.7,472.8C454.2,474.8 458.7,477 463.2,478.5C467.7,480 471.5,481.1 476.8,481.8C482,482.6 488.8,483.1 494.8,483C500.8,482.8 506.8,481.8 512.8,480.7C518.8,479.6 523.7,477.8 530.8,476.2C537.9,474.6 546.8,472.2 555.3,471.1C563.8,470 573.1,469.5 582,469.4C590.9,469.3 599.8,470 608.7,470.4C617.6,470.8 626.5,471.5 635.4,471.8C644.3,472 653.2,472 662.1,471.8C671,471.5 678.8,471 688.8,470.4C698.9,469.9 714,469 722.2,468.4C730.5,467.9 731.3,468.2 738.4,467.1C745.5,466 757.3,463.6 765.1,461.7C772.9,459.9 778.7,458.1 785.1,456.1C791.5,454 796.8,451.6 803.5,449.4C810.2,447.2 817.1,444.2 825.2,442.7C833.3,441.2 843,441.2 851.9,440.4C860.8,439.5 870.8,438.4 878.6,437.7C886.4,437 892.5,436.8 898.6,436C904.8,435.3 915.3,434.3 915.3,433C915.3,431.8 904.8,429.8 898.6,428.4C892.5,426.9 885.3,425.9 878.6,424.4C871.9,422.9 864.7,419.8 858.6,419.3C852.5,418.9 846.3,420.4 841.9,421.7C837.4,423 835.2,424.9 831.9,427C828.5,429.1 826.9,432.6 821.9,434.4C816.9,436.2 808,437.3 801.8,437.7C795.7,438.2 793.5,438.4 785.1,437C776.8,435.6 761.2,431.5 751.8,429.4C742.3,427.2 736.2,425.7 728.4,424.4C720.6,423 712.2,422.4 705,421C697.8,419.6 690.3,418.2 685,416C679.7,413.8 674.4,411.8 673.3,407.7C672.2,403.5 675.2,395.7 678.3,391C681.4,386.2 687.2,383.7 691.7,379.3C696.1,374.9 700.6,368.4 705,364.6C709.5,360.7 712.8,358.2 718.4,356.2C723.9,354.3 730.6,354 738.4,352.9C746.2,351.8 756.2,350.9 765.1,349.5C774,348.2 782.9,346 791.8,344.5C800.7,343 812.4,342.8 818.5,340.5C824.6,338.3 826.3,334.4 828.5,331.2C830.8,328 830.2,325.1 831.9,321.2C833.5,317.3 834.7,312 838.6,307.8C842.5,303.6 848.6,299.2 855.2,296.1C861.9,293.1 870.3,290.8 878.6,289.5C887,288.1 897,287.4 905.3,287.8C913.7,288.2 922,289.6 928.7,291.8C935.4,294 941.5,297.4 945.4,301.1C949.3,304.9 951.1,309.5 952.1,314.5C953.1,319.5 951.7,326.2 951.4,331.2C951.1,336.2 949.7,340.1 950.4,344.5C951.1,349 952.3,353.4 955.4,357.9C958.5,362.3 963.8,366.8 968.8,371.2C973.8,375.7 978.2,379.9 985.5,384.6C992.7,389.3 1003.3,394.9 1012.2,399.6C1021.1,404.4 1030,408.8 1038.9,413C1047.8,417.2 1058.5,421.6 1065.6,424.7C1072.7,427.7 1077.1,429.2 1081.5,431.4C1085.9,433.5 1085.7,434.7 1091.9,437.7C1098.1,440.7 1109.7,445.8 1118.6,449.4C1127.5,453 1136.4,456.1 1145.3,459.4C1154.2,462.7 1163.1,465.5 1172,469.4C1180.9,473.3 1189.8,477.8 1198.7,482.8C1207.6,487.8 1217.6,494.2 1225.4,499.5C1233.2,504.8 1239.3,509.8 1245.5,514.5C1251.6,519.2 1256.6,524 1262.1,527.8C1267.7,531.7 1272.7,535.1 1278.8,537.9C1285,540.6 1292.2,542.9 1298.9,544.5C1305.5,546.2 1313.5,547 1318.9,547.9C1324.3,548.7 1324,549.1 1331.3,549.5C1338.5,550 1355.6,527.5 1362.3,550.6C1369,573.6 1605,664.8 1371.6,687.6C1138.2,710.4 196.6,687.6 -38.4,687.6Z" fill="#0020ff" stroke="#0020ff" stroke-width="0.7"/>
<path d="M715.7,132.8C716.7,131.4 718.5,127 721.8,124.5C725,122 729.5,120 735.1,117.8C740.7,115.6 747.9,113.3 755.1,111.1C762.4,108.9 769.6,106.4 778.5,104.4C787.4,102.5 798.5,100.7 808.6,99.4C818.6,98.2 829.1,96.9 838.6,96.8C848.1,96.7 857.5,97.5 865.3,98.8C873.1,100 880.6,102.1 885.3,104.4C890.1,106.8 892.9,109.7 893.7,112.8C894.5,115.8 892.9,119.5 890.4,122.8C887.8,126.1 884.5,129.5 878.7,132.8C872.8,136.2 863.6,140.1 855.3,142.8C846.9,145.6 837.5,147.6 828.6,149.5C819.7,151.5 810.8,153 801.9,154.5C793,156 783,158 775.2,158.5C767.4,159.1 761.8,158.9 755.1,157.9C748.5,156.8 740.7,154.4 735.1,152.2C729.5,150 725,147.7 721.8,144.5C718.5,141.3 716.7,134.8 715.7,132.8Z" fill="#0020ff" stroke="#0020ff" stroke-width="0.7"/>
<path d="M-28.4,591.3C-23.4,590.4 -7.3,588.4 1.6,586.3C10.5,584.2 15.5,580.8 25,578.6C34.4,576.4 47.2,574.3 58.4,572.9C69.5,571.6 80.6,571 91.8,570.6C102.9,570.1 114,570.4 125.1,570.2C136.3,570.1 148.5,570 158.5,569.6C168.5,569.2 177.4,569 185.2,567.9C193,566.8 198.6,564.9 205.3,562.9C211.9,561 218.6,558.3 225.3,556.2C232,554.2 237.5,552.1 245.3,550.6C253.1,549 262,547.9 272,547.2C282.1,546.5 294.3,546.2 305.4,546.2C316.5,546.2 327.7,546.8 338.8,547.2C349.9,547.6 363.3,548.4 372.2,548.5C381.1,548.7 384,548.5 392.2,547.9C400.5,547.2 411.3,545.7 421.8,544.5C432.2,543.4 444,542.2 455.1,541.2C466.3,540.2 477.4,539.4 488.5,538.5C499.7,537.7 510.8,537 521.9,536.2C533,535.4 544.2,534.7 555.3,533.9C566.4,533 577.6,532.1 588.7,531.2C599.8,530.3 610.9,529.7 622.1,528.5C633.2,527.3 645.4,525.6 655.5,523.8C665.5,522.1 673.8,519.8 682.2,517.8C690.5,515.8 697.7,513.9 705.5,511.8C713.3,509.7 720.1,508.2 728.9,505.1C737.7,502.1 747.9,497 758.4,493.8C768.9,490.6 780.7,488.5 791.8,486.1C802.9,483.7 815.2,481.4 825.2,479.4C835.2,477.5 841.9,475.8 851.9,474.4C861.9,473 874.2,472.5 885.3,471.1C896.4,469.7 907.6,468.3 918.7,466.1C929.8,463.9 942.1,460.2 952.1,457.7C962.1,455.2 969.9,452.7 978.8,451.1C987.7,449.4 996.6,448.2 1005.5,447.7C1014.4,447.3 1023.3,447.7 1032.2,448.4C1041.1,449.1 1050.7,450.5 1058.9,451.7C1067.1,453 1075,454.4 1081.6,456.1C1088.2,457.7 1091.3,458.7 1098.6,461.7C1105.8,464.8 1117.5,469.8 1125.3,474.4C1133.1,479.1 1138.6,484.4 1145.3,489.5C1152,494.5 1158.6,499.5 1165.3,504.5C1172,509.5 1178.7,514.5 1185.4,519.5C1192,524.5 1199.3,529.5 1205.4,534.5C1211.5,539.5 1217.6,544.8 1222.1,549.5C1226.5,554.3 1231,558.7 1232.1,562.9C1233.2,567.1 1232.1,570.4 1228.8,574.6C1225.4,578.8 1216.8,584 1212.1,587.9C1207.3,591.8 1200.4,594.9 1200.4,598C1200.4,601 1205.7,604.1 1212.1,606.3C1218.5,608.5 1229.9,610.5 1238.8,611.3C1247.7,612.1 1256.6,611.8 1265.5,611.3C1274.4,610.9 1284.4,610 1292.2,608.6C1300,607.2 1305.7,604.7 1312.2,603C1318.7,601.2 1322.9,599.9 1331.3,598C1339.6,596 1355.6,576.3 1362.3,591.3C1369,606.2 1605,671.5 1371.6,687.6C1138.2,703.7 196.6,687.6 -38.4,687.6Z" fill="#0000ed" stroke="#0000ed" stroke-width="0.7"/>
<path d="M-28.4,633C-23.4,632.7 -7.3,632.2 1.6,631.3C10.5,630.5 15.5,629.4 25,628C34.4,626.6 47.2,624.6 58.4,623C69.5,621.4 80.6,619.8 91.8,618.7C102.9,617.5 114,616.8 125.1,616.3C136.3,615.8 147.4,615.7 158.5,615.7C169.7,615.7 180.8,616 191.9,616.3C203,616.6 214.2,616.9 225.3,617.3C236.4,617.7 247.6,618.1 258.7,618.7C269.8,619.2 280.9,619.9 292.1,620.7C303.2,621.4 314.3,622.3 325.5,623C336.6,623.7 347.7,624.1 358.8,624.7C370,625.2 381.7,626.1 392.2,626.3C402.7,626.6 411.3,626.3 421.8,626.3C432.2,626.3 444,626.6 455.1,626.3C466.3,626.1 479.6,625.4 488.5,624.7C497.4,623.9 501.9,623 508.6,622C515.2,621 521.4,619.8 528.6,618.7C535.8,617.5 543.9,616.7 552,615.3C560,614 574.2,612.7 577,610.6C579.8,608.6 571.7,605.6 568.6,603C565.6,600.3 561.4,598 558.6,594.6C555.9,591.3 551.4,586.6 552,582.9C552.5,579.3 557,575.4 562,572.9C567,570.4 574.2,569.6 582,567.9C589.8,566.2 599.8,564.5 608.7,562.9C617.6,561.3 626.5,560 635.4,558.6C644.3,557.2 653.2,556.3 662.1,554.6C671,552.8 681,550.4 688.8,547.9C696.6,545.4 702.2,542.6 708.9,539.5C715.5,536.5 721.8,532.7 728.9,529.5C736,526.3 742.4,523 751.8,520.5C761.1,518 774,516.9 785.1,514.5C796.3,512.1 807.4,508.7 818.5,506.1C829.7,503.6 840.8,501.4 851.9,499.5C863,497.5 874.2,496.4 885.3,494.5C896.4,492.5 907.6,490.1 918.7,487.8C929.8,485.4 942.1,482.6 952.1,480.4C962.1,478.3 969.9,476.2 978.8,475.1C987.7,474 996.6,473.9 1005.5,473.8C1014.4,473.7 1023.3,474 1032.2,474.4C1041.1,474.8 1050.7,475.4 1058.9,476.1C1067.1,476.8 1076.1,476.8 1081.6,478.4C1087.1,480.1 1087.4,483.2 1091.9,486.1C1096.4,489.1 1103.6,492.2 1108.6,496.1C1113.6,500 1118.3,504.8 1121.9,509.5C1125.5,514.2 1128.2,519.5 1130.3,524.5C1132.4,529.5 1134.3,535.1 1134.6,539.5C1134.9,544 1134.1,547.9 1131.9,551.2C1129.8,554.6 1126.4,557.3 1121.9,559.6C1117.5,561.8 1110.2,563.2 1105.2,564.6C1100.2,566 1095.5,566 1091.9,567.9C1088.3,569.9 1085.8,572.4 1083.5,576.3C1081.3,580.2 1079.5,586.6 1078.5,591.3C1077.6,596 1077,600.5 1077.9,604.6C1078.7,608.8 1080.1,613 1083.5,616.3C1087,619.7 1091.6,622.2 1098.6,624.7C1105.5,627.2 1115.2,629.7 1125.3,631.3C1135.3,633 1146.4,633.8 1158.6,634.7C1170.9,635.5 1185.4,636.1 1198.7,636.4C1212.1,636.6 1225.4,636.6 1238.8,636.4C1252.1,636.1 1267.7,635.2 1278.8,634.7C1290,634.1 1296.8,633.6 1305.5,633C1314.3,632.5 1321.8,631.9 1331.3,631.3C1340.7,630.8 1355.6,620.3 1362.3,629.7C1369,639 1605,677.9 1371.6,687.6C1138.2,697.3 196.6,687.6 -38.4,687.6Z" fill="#0000a4" stroke="#0000a4" stroke-width="0.7"/>
<path d="M931.6,551.2C933.3,549.8 936.1,545 941.6,542.9C947.2,540.8 956.7,539.6 965,538.5C973.4,537.4 982.8,536.3 991.7,536.2C1000.6,536.1 1010.1,536.6 1018.4,537.9C1026.8,539.1 1035.1,541.4 1041.8,543.9C1048.5,546.4 1057.9,549.2 1058.5,552.9C1059.1,556.6 1051.8,563.7 1045.1,566.2C1038.5,568.7 1027.3,567.7 1018.4,567.9C1009.5,568.1 1000.6,568.1 991.7,567.2C982.8,566.4 972.8,564.5 965,562.9C957.2,561.3 950.5,559.8 945,557.9C939.4,555.9 933.9,552.3 931.6,551.2Z" fill="#0000ed" stroke="#0000ed" stroke-width="0.7"/>
<path d="M623.6,608.6C626.6,607.6 634.1,604.6 641.6,602.6C649.1,600.6 659.6,598.4 668.6,596.6C677.6,594.8 686.8,593.3 695.6,591.6C704.4,589.9 712.3,587.8 721.6,586.6C730.9,585.4 742.1,584.6 751.6,584.6C761.1,584.6 770.8,585.4 778.6,586.6C786.4,587.8 794.1,589.6 798.6,591.6C803.1,593.6 806.3,595.9 805.6,598.6C804.9,601.3 799.1,605.3 794.6,607.6C790.1,609.9 785.8,610.9 778.6,612.6C771.4,614.3 761.6,616.4 751.6,617.6C741.6,618.8 729.8,619.4 718.6,619.6C707.4,619.8 694.1,619.1 684.6,618.6C675.1,618.1 668.8,617.4 661.6,616.6C654.4,615.8 647.9,614.9 641.6,613.6C635.3,612.3 626.6,609.4 623.6,608.6Z" fill="#0000ed" stroke="#0000ed" stroke-width="0.7"/>
<path d="M261.6,-32.4C266.6,-26.8 281.6,-5.4 291.6,0.9C301.6,7.3 308.2,4.3 321.6,6C335,7.6 355,9.3 371.7,11C388.4,12.6 407.8,13.7 421.8,16C435.7,18.2 444,21.3 455.1,24.3C466.3,27.4 478.5,30.7 488.5,34.3C498.5,37.9 508,42.1 515.2,46C522.5,49.9 528.6,54.1 531.9,57.7C535.3,61.3 535.8,64.7 535.3,67.7C534.7,70.8 532.5,73.6 528.6,76.1C524.7,78.6 517.5,80.8 511.9,82.7C506.3,84.7 499.7,86.4 495.2,87.7C490.8,89.1 487.4,88.9 485.2,91.1C483,93.3 480.2,98.9 481.8,101.1C483.5,103.3 490.8,103.3 495.2,104.4C499.7,105.6 501.9,106.4 508.6,107.8C515.2,109.2 526.4,111.3 535.3,112.8C544.2,114.3 553.6,114.8 562,116.8C570.3,118.7 578.7,121.2 585.3,124.5C592,127.7 597.6,132 602,136.2C606.5,140.3 608.7,145.6 612.1,149.5C615.4,153.4 618.7,156.5 622.1,159.5C625.4,162.6 628.7,164.5 632.1,167.9C635.4,171.2 638.8,175.7 642.1,179.6C645.4,183.5 646.6,189 652.1,191.2C657.6,193.5 667.3,192.4 675,192.9C682.7,193.5 691.2,193.2 698.4,194.6C705.6,196 711.7,198.2 718.4,201.3C725.1,204.3 731.8,208.8 738.4,212.9C745.1,217.1 751.8,221.6 758.5,226.3C765.2,231 772.9,236.9 778.5,241.3C784.1,245.8 789.2,249.1 791.9,253C794.5,256.9 795.1,260.8 794.5,264.7C794,268.6 791.8,272.5 788.5,276.4C785.3,280.2 780.1,284.5 775.1,287.8C770.1,291.1 764.6,294 758.4,296.1C752.3,298.2 745.1,299.1 738.4,300.5C731.7,301.9 724.5,303 718.4,304.5C712.2,306 706.7,307 701.7,309.5C696.7,312 691.9,315.3 688.3,319.5C684.7,323.7 682.8,329.5 680,334.5C677.2,339.5 674.7,345.1 671.6,349.5C668.6,354 665,358.3 661.6,361.2C658.3,364.2 658.7,365.9 651.6,367.2C644.5,368.6 629.9,369.5 618.8,369.6C607.8,369.7 596.6,368.2 585.5,367.9C574.3,367.6 561.2,367.7 552.1,367.9C543,368.1 537,367.9 530.8,369.3C524.6,370.6 519.9,373.4 515,376C510.2,378.6 505.7,381.8 501.5,385C497.4,388.2 494,391.6 490.3,395.1C486.5,398.7 482.8,402.7 479,406.4C475.3,410.2 471.9,414.6 467.7,417.7C463.6,420.7 460.2,422.8 454.2,424.9C448.2,426.9 439.2,428.2 431.7,430C424.2,431.8 416.7,433.6 409.2,435.7C401.7,437.7 394.2,440.4 386.7,442.4C379.2,444.5 371.7,446.5 364.2,448.1C356.7,449.6 349.2,450.9 341.7,451.9C334.2,452.8 326.7,453.2 319.1,453.7C311.6,454.2 304.1,454.4 296.6,454.8C289.1,455.3 281.6,455.6 274.1,456.4C266.6,457.1 258.6,457.4 251.6,459.3C244.6,461.2 238.6,465.2 232,467.8C225.4,470.3 218.6,472.9 211.9,474.4C205.3,475.9 199.1,476.3 191.9,476.8C184.7,477.2 175.8,476.4 168.5,477.1C161.3,477.8 154.6,479.1 148.5,481.1C142.4,483.2 137.4,486.7 131.8,489.5C126.3,492.2 121.8,495.4 115.1,497.8C108.4,500.2 100.1,502.3 91.8,503.8C83.4,505.4 73.4,506.5 65,507.1C56.7,507.8 49.5,508.1 41.7,507.8C33.9,507.5 25,506.7 18.3,505.5C11.6,504.3 9.4,502 1.6,500.5C-6.2,498.9 -21.8,584.9 -28.4,496.1C-35.1,407.3 -36.7,55.7 -38.4,-32.4Z" fill="#00a0ff" stroke="#00a0ff" stroke-width="0.7"/>
<path d="M1081.6,-32.4C1079.4,-26.8 1074.6,-5.7 1068.5,0.9C1062.4,7.6 1053.5,5.4 1045.1,7.6C1036.8,9.8 1026.5,11.2 1018.4,14.3C1010.4,17.4 998.4,22.6 996.7,26C995.1,29.3 1002,32.1 1008.4,34.3C1014.8,36.6 1026.2,37.9 1035.1,39.3C1044,40.7 1052.9,41.3 1061.8,42.7C1070.7,44.1 1080.2,45.5 1088.5,47.7C1096.9,49.9 1105.5,53.1 1111.9,56C1118.3,59 1129.2,61.8 1126.9,65.4C1124.7,69 1108.3,75.1 1098.6,77.7C1088.8,80.3 1078.5,79.8 1068.5,81.1C1058.5,82.4 1047.9,83.7 1038.5,85.4C1029,87.1 1020.1,88.7 1011.8,91.1C1003.4,93.4 995.5,95.3 988.4,99.4C981.2,103.6 975.4,110.8 968.8,116.1C962.2,121.4 955.5,125.9 948.8,131.1C942.1,136.4 934.9,142.3 928.7,147.8C922.6,153.4 916.1,159.8 912.1,164.5C908,169.3 905.3,172 904.7,176.2C904.1,180.4 906.4,185.1 908.7,189.6C911,194 915.4,197.4 918.7,202.9C922.1,208.5 925.4,216.8 928.7,223C932.1,229.1 934.9,234.6 938.8,239.6C942.7,244.7 947.1,249.1 952.1,253C957.1,256.9 963.2,259.7 968.8,263C974.4,266.4 981,269.7 985.5,273C989.9,276.4 992.2,278.9 995.5,283.1C998.8,287.2 1002.7,292.6 1005.5,297.8C1008.3,303 1010.5,308.9 1012.2,314.5C1013.8,320.1 1014.4,325.6 1015.5,331.2C1016.6,336.8 1016.6,342.3 1018.8,347.9C1021.1,353.4 1024.4,359.1 1028.9,364.6C1033.3,370.1 1039.4,376.3 1045.5,381C1051.7,385.6 1058.4,388.5 1065.6,392.6C1072.7,396.8 1080.8,401.8 1088.5,406C1096.3,410.2 1103.6,414.1 1111.9,417.7C1120.3,421.3 1129.7,424.9 1138.6,427.7C1147.5,430.5 1156.4,432.4 1165.3,434.4C1174.2,436.3 1183.1,437.4 1192,439.4C1200.9,441.3 1209.8,443.6 1218.7,446.1C1227.6,448.6 1236.5,451.6 1245.5,454.4C1254.4,457.2 1263.8,460 1272.2,462.7C1280.5,465.5 1288.3,468.6 1295.5,471.1C1302.8,473.6 1309.6,476.1 1315.6,477.8C1321.5,479.4 1323.5,479.3 1331.3,481.1C1339,482.9 1355.6,484 1362.3,488.5C1369,492.9 1370,594.4 1371.6,507.6C1373.2,420.8 1371.6,57.6 1371.6,-32.4Z" fill="#00a0ff" stroke="#00a0ff" stroke-width="0.7"/>
<path d="M820.9,196.2C821.9,194.9 823.4,190.4 826.9,187.9C830.4,185.4 837.2,182.6 841.9,181.2C846.7,179.8 850.8,179 855.3,179.6C859.7,180.1 865.6,182.3 868.6,184.6C871.7,186.8 873.7,189.9 873.7,192.9C873.7,196 871.7,200.1 868.6,202.9C865.6,205.7 859.7,207.7 855.3,209.6C850.8,211.6 846.4,214.6 841.9,214.6C837.5,214.6 832.1,212.7 828.6,209.6C825.1,206.5 822.2,198.5 820.9,196.2Z" fill="#00a0ff" stroke="#00a0ff" stroke-width="0.7"/>
<path d="M598.8,291.1C600.5,290.3 604.9,287.1 608.8,286.1C612.7,285.1 618.3,284.3 622.2,285.1C626.1,286 633.3,288.5 632.2,291.1C631.1,293.8 621.1,301.1 615.5,301.1C609.9,301.1 601.6,292.8 598.8,291.1Z" fill="#0060ff" stroke="#0060ff" stroke-width="0.7"/>
<path d="M-28.4,38.7C-23.4,38.3 -7.3,37.4 1.6,36.7C10.5,35.9 15.5,35.1 25,34.3C34.4,33.6 47.2,32.7 58.4,32C69.5,31.3 80.6,30.7 91.8,30.3C102.9,30 114,30 125.1,30C136.3,29.9 147.4,29.8 158.5,30C169.7,30.2 180.8,30.5 191.9,31C203,31.4 214.2,31.9 225.3,32.7C236.4,33.4 247.6,33.9 258.7,35.3C269.8,36.7 282.1,38.9 292.1,41C302.1,43.1 311,45.5 318.8,47.7C326.6,49.9 333.5,51.6 338.8,54.4C344.1,57.1 348,60.8 350.5,64.4C353,68 350.8,71.9 353.8,76.1C356.9,80.2 362.5,85.4 368.9,89.4C375.3,93.4 383.4,96.8 392.2,100.1C401,103.4 411.1,105.7 421.6,109.4C432.1,113.2 445.1,118.9 455.1,122.8C465.2,126.7 472.9,130 481.8,132.8C490.8,135.6 500.8,137 508.6,139.5C516.3,142 523.9,144.5 528.6,147.8C533.3,151.2 535.8,155.4 536.9,159.5C538,163.7 537.2,168.4 535.3,172.9C533.3,177.3 528,182.3 525.2,186.2C522.5,190.1 518,192.9 518.6,196.2C519.1,199.6 522.5,203.5 528.6,206.3C534.7,209 545.3,211.7 555.3,212.9C565.3,214.2 577.6,213.9 588.7,213.6C599.8,213.3 614.3,211.9 622.1,211.3C629.9,210.6 629.9,209.3 635.4,209.6C641,209.9 648.8,210.7 655.5,212.9C662.1,215.2 669.4,219.1 675.5,223C681.6,226.9 687.2,231.3 692.2,236.3C697.2,241.3 703,248.6 705.5,253C708,257.5 708.3,259.7 707.2,263C706.1,266.4 703,270.9 698.9,273C694.7,275.1 689.4,276 682.2,275.7C674.9,275.4 663.8,273.8 655.5,271.4C647.1,269 639.3,263.9 632.1,261.4C624.8,258.8 618.2,256.9 612.1,256.3C605.9,255.8 601.5,256.3 595.4,258C589.2,259.7 582,262.7 575.3,266.4C568.6,270 556.6,278.6 555.3,279.7C554,280.8 567.9,272.3 567.3,273C566.7,273.8 556.8,280.3 551.5,284.3C546.3,288.2 541,292.4 535.8,296.7C530.5,301 524.9,306 520,310.2C515.1,314.3 510.2,317.7 506.5,321.4C502.7,325.2 500.5,328.9 497.5,332.7C494.5,336.4 491.1,340.6 488.5,344C485.9,347.3 486.7,349.7 481.7,353C476.8,356.2 464.8,359.6 458.7,363.6C452.7,367.7 449.7,373 445.2,377.1C440.7,381.3 436.2,384.6 431.7,388.4C427.2,392.1 422.7,395.9 418.2,399.6C413.7,403.4 410,407.2 404.7,410.9C399.5,414.7 393.4,418.7 386.7,422.2C379.9,425.6 371.7,429.1 364.2,431.6C356.7,434.2 349.2,436 341.7,437.5C334.2,439 326.7,439.9 319.1,440.6C311.6,441.4 304.1,441.7 296.6,442C289.1,442.3 281.6,442.4 274.1,442.4C266.6,442.5 259.7,442.2 251.6,442.4C243.5,442.6 235.2,443.4 225.3,443.7C215.3,444 201.9,444.6 191.9,444.4C181.9,444.2 174.1,443.8 165.2,442.7C156.3,441.6 146.8,439.8 138.5,437.7C130.1,435.6 122.9,432.9 115.1,430.4C107.3,427.9 98.4,424.4 91.8,422.7C85.1,421 79.8,420 75.1,420C70.3,420 67,421.1 63.4,422.7C59.8,424.2 56.1,426.6 53.4,429.4C50.6,432.1 49.2,436 46.7,439.4C44.2,442.7 42,447.4 38.3,449.4C34.7,451.3 29.4,451.1 25,451.1C20.5,451.1 15.5,451 11.6,449.4C7.7,447.8 8.3,445.9 1.6,441.7C-5.1,437.5 -23.4,427.2 -28.4,424.4Z" fill="#00e0fb" stroke="#00e0fb" stroke-width="0.7"/>
<path d="M1362.3,34.3C1357.1,35.6 1339,39.8 1331.3,42C1323.5,44.2 1320.4,45.1 1315.6,47.7C1310.7,50.3 1307.2,53.5 1302.2,57.7C1297.2,61.9 1291.1,68.3 1285.5,72.7C1279.9,77.2 1274.4,80.8 1268.8,84.4C1263.3,88 1258.2,91.4 1252.1,94.4C1246,97.5 1238.8,100.3 1232.1,102.8C1225.4,105.3 1219.9,107.7 1212.1,109.4C1204.3,111.2 1194.3,112.6 1185.4,113.5C1176.5,114.3 1167.6,114.3 1158.6,114.5C1149.7,114.6 1140.8,114.3 1131.9,114.5C1123,114.6 1114.1,114.7 1105.2,115.5C1096.3,116.2 1087.4,117 1078.5,118.8C1069.6,120.6 1060.2,123.2 1051.8,126.1C1043.5,129 1035.7,132.5 1028.4,136.2C1021.2,139.8 1015.1,143.4 1008.4,147.8C1001.7,152.3 994.2,158.1 988.4,162.9C982.5,167.6 976.8,171.8 973.4,176.2C969.9,180.7 968.5,185.1 967.7,189.6C966.9,194 967.1,197.9 968.4,202.9C969.6,207.9 972.2,214.1 975,219.6C977.8,225.2 981.2,230.2 985,236.3C988.9,242.4 993,249.4 998.4,256.3C1003.8,263.3 1012.4,271.4 1017.2,277.8C1022,284.1 1024.1,288.3 1027.2,294.5C1030.2,300.6 1033,307.8 1035.5,314.5C1038,321.2 1039.7,328.4 1042.2,334.5C1044.7,340.6 1047.2,345.7 1050.6,351.2C1053.9,356.7 1057.5,363.5 1062.2,367.6C1066.8,371.7 1072.5,373.3 1078.5,375.9C1084.6,378.6 1090.8,381.6 1098.6,383.6C1106.3,385.7 1116.4,387.1 1125.3,388.3C1134.2,389.5 1143.1,390.2 1152,391C1160.9,391.7 1169.8,392.2 1178.7,392.6C1187.6,393.1 1196.5,393.3 1205.4,393.6C1214.3,394 1223.2,394.3 1232.1,395C1241,395.6 1249.9,396.8 1258.8,397.6C1267.7,398.5 1276.6,399.5 1285.5,400.3C1294.4,401.2 1304.6,402.1 1312.2,402.7C1319.8,403.2 1322.9,403.3 1331.3,403.7C1339.6,404 1357.1,404.8 1362.3,405Z" fill="#00e0fb" stroke="#00e0fb" stroke-width="0.7"/>
<path d="M130.1,131.1C132.1,130.5 137.1,128 141.8,127.1C146.6,126.3 153,125.9 158.5,126.1C164.1,126.4 170.2,127.4 175.2,128.8C180.2,130.2 187.5,131.5 188.6,134.5C189.7,137.5 185.8,144.5 181.9,146.8C178,149.2 170.8,148.9 165.2,148.5C159.6,148.1 154.4,147.4 148.5,144.5C142.7,141.6 133.2,133.4 130.1,131.1Z" fill="#00a0ff" stroke="#00a0ff" stroke-width="0.7"/>
<path d="M-28.4,158.5C-23.4,158.4 -7.3,158 1.6,157.9C10.5,157.7 15.5,157.6 25,157.9C34.4,158.1 47.2,158.1 58.4,159.5C69.5,160.9 80.6,164.3 91.8,166.2C102.9,168.1 114,169.5 125.1,171.2C136.3,172.9 147.4,174.7 158.5,176.2C169.7,177.7 183.6,179.1 191.9,180.2C200.3,181.3 203,181.6 208.6,182.9C214.2,184.2 219.2,186.9 225.3,187.9C231.4,188.9 238.6,189.2 245.3,188.9C252,188.6 259.2,187.5 265.4,186.2C271.5,185 277.6,183.5 282.1,181.2C286.5,179 290.1,175.9 292.1,172.9C294,169.8 294.8,166.8 293.7,162.9C292.6,159 287.6,154 285.4,149.5C283.2,145.1 280.9,140.1 280.4,136.2C279.8,132.3 280.1,128.8 282.1,126.1C284,123.5 287.1,121.5 292.1,120.1C297.1,118.7 301.6,117.6 312.1,117.8C322.6,118 342.3,119.7 355,121.1C367.7,122.5 377.2,124.2 388.4,126.1C399.5,128.1 411.7,130.6 421.8,132.8C431.8,135 440.7,137 448.5,139.5C456.3,142 462.9,144.8 468.5,147.8C474.1,150.9 479.2,154.5 481.8,157.9C484.5,161.2 484.7,164.5 484.2,167.9C483.6,171.2 481.7,174.8 478.5,177.9C475.3,180.9 469.6,183.5 465.2,186.2C460.7,189 455.1,191.8 451.8,194.6C448.5,197.4 445.4,199.9 445.1,202.9C444.8,206 446.2,209.6 450.1,212.9C454,216.3 461,220.2 468.5,223C476,225.7 486.3,227.7 495.2,229.6C504.1,231.6 514.7,232.7 521.9,234.6C529.1,236.6 534.8,238.5 538.6,241.3C542.4,244.1 544.3,247.6 544.6,251.3C544.9,255.1 542.9,260.4 540.3,264C537.7,267.6 533.1,270 529,273C524.9,276 520.4,279.2 515.5,282C510.6,284.8 505,287.3 499.7,289.9C494.5,292.5 488.9,295.2 484,297.8C479.1,300.4 474.6,302.9 470.5,305.7C466.3,308.5 462.6,311.5 459.2,314.7C455.8,317.9 452.8,321.4 450.2,324.8C447.6,328.2 445.7,331.4 443.4,334.9C441.2,338.5 440.5,341.8 436.7,346.2C432.9,350.6 425.8,356.4 420.5,361.4C415.1,366.3 409.6,371.5 404.7,376C399.8,380.5 396.1,383.9 391.2,388.4C386.3,392.9 380.7,398.7 375.4,403C370.2,407.3 365.3,411.1 359.7,414.3C354,417.5 348.4,420.1 341.7,422.2C334.9,424.2 326.7,425.5 319.1,426.7C311.6,427.9 304.1,428.8 296.6,429.4C289.1,429.9 281.6,429.9 274.1,430C266.6,430.2 259.7,429.9 251.6,430C243.5,430.2 235.2,430.9 225.3,431C215.3,431.2 201.9,431.2 191.9,431C181.9,430.9 174.1,431 165.2,430C156.3,429 146.3,427.1 138.5,425C130.7,423 125.1,420.5 118.5,417.7C111.8,414.9 105.7,411.4 98.4,408.3C91.2,405.3 82.9,401.8 75.1,399.3C67.3,396.9 60,395.1 51.7,393.6C43.3,392.1 33.3,391.2 25,390.3C16.6,389.4 10.5,388.9 1.6,388.3C-7.3,387.7 -23.4,387.2 -28.4,387Z" fill="#30ffc7" stroke="#30ffc7" stroke-width="0.7"/>
<path d="M1362.3,159.5C1357.1,158.7 1340.7,156.2 1331.3,154.5C1321.8,152.8 1314.3,151.2 1305.5,149.5C1296.8,147.8 1287.7,145.9 1278.8,144.5C1269.9,143.1 1261,142 1252.1,141.2C1243.2,140.3 1234.3,139.9 1225.4,139.5C1216.5,139.1 1207.6,139 1198.7,138.8C1189.8,138.7 1180.9,138.6 1172,138.5C1163.1,138.4 1154.2,138.1 1145.3,138.2C1136.4,138.2 1127.5,138.2 1118.6,138.8C1109.7,139.5 1100.2,140.4 1091.9,142.2C1083.5,143.9 1076.3,146.6 1068.5,149.5C1060.7,152.4 1052.4,155.6 1045.1,159.5C1037.9,163.4 1030.7,168.4 1025.1,172.9C1019.5,177.3 1014.8,181.8 1011.8,186.2C1008.7,190.7 1007.3,195.1 1006.7,199.6C1006.2,204 1006.5,207.9 1008.4,212.9C1010.4,217.9 1014.5,223.5 1018.4,229.6C1022.3,235.8 1027.3,243 1031.8,249.7C1036.2,256.3 1042,261.1 1045.1,269.7C1048.3,278.3 1048.8,292 1050.5,301.1C1052.2,310.3 1053.3,317.8 1055.5,324.5C1057.7,331.2 1059.7,336.5 1063.5,341.2C1067.3,345.9 1072.7,350 1078.5,352.9C1084.4,355.8 1091.4,357.5 1098.6,358.6C1105.7,359.6 1114.9,358.3 1121.6,359C1128.3,359.6 1133,361.3 1138.7,362.4C1144.4,363.5 1150.1,364.8 1155.8,365.8C1161.5,366.8 1167.1,367.6 1172.8,368.4C1178.5,369.2 1184.2,369.9 1189.9,370.6C1195.6,371.3 1201.3,372 1207,372.6C1212.7,373.3 1218.4,374 1224.1,374.7C1229.8,375.4 1235.5,376.2 1241.2,376.9C1246.9,377.6 1252.6,378.3 1258.2,379C1263.9,379.6 1269.6,380.1 1275.3,380.7C1281,381.2 1286.7,381.9 1292.4,382.4C1298.1,382.9 1303.4,383.3 1309.5,383.7C1315.6,384.2 1317.7,384.4 1329.1,384.9C1340.5,385.5 1369.7,386.8 1377.8,387.2Z" fill="#30ffc7" stroke="#30ffc7" stroke-width="0.7"/>
<path d="M-28.4,179.6C-23.4,179.7 -8.4,180 1.6,180.3C11.6,180.6 21.1,181.1 31.7,181.6C42.2,182.2 53.9,182.9 65,183.6C76.2,184.3 87.3,185 98.4,186C109.6,186.9 120.7,188.2 131.8,189.3C142.9,190.4 154.1,191.4 165.2,192.6C176.3,193.9 188.6,195.8 198.6,197C208.6,198.1 216.4,199 225.3,199.6C234.1,200.3 242.8,200.5 251.7,201C260.6,201.5 270.4,202.1 278.7,202.7C287,203.2 294.8,203.9 301.6,204.4C308.4,204.8 313.6,205.2 319.6,205.5C325.6,205.8 331.6,205.8 337.6,206.2C343.6,206.5 349.6,207.1 355.6,207.7C361.6,208.4 367.6,209 373.6,210C379.7,210.9 385.7,212 391.7,213.4C397.7,214.7 403.7,216.4 409.7,218.3C415.7,220.2 421.7,222.4 427.7,224.6C433.7,226.8 439.7,228.9 445.7,231.4C451.7,233.8 458.1,236.6 463.7,239.3C469.3,241.9 474.8,244.7 479.5,247.1C484.2,249.6 489,251.4 491.9,253.9C494.7,256.3 497.3,257.8 496.4,261.8C495.4,265.7 489.8,273.8 486.2,277.5C482.7,281.3 479.1,282 475,284.3C470.8,286.5 465.6,289 461.5,291C457.3,293.1 453.6,294.6 450.2,296.7C446.8,298.7 444,300.8 441.2,303.4C438.4,306 435.8,309.1 433.3,312.4C430.9,315.8 429,319.6 426.6,323.7C424.1,327.8 421.3,332.9 418.7,337.2C416.1,341.5 416.1,344.8 410.8,349.6C405.5,354.4 393,361.1 386.7,365.9C380.4,370.7 377.3,374.3 373.2,378.3C369.1,382.2 365.7,386 361.9,389.5C358.2,393.1 354.8,396.5 350.7,399.6C346.5,402.8 342.4,406.2 337.2,408.7C331.9,411.1 325.9,412.9 319.1,414.3C312.4,415.7 304.1,416.3 296.6,417.2C289.1,418.1 281.6,419 274.1,419.5C266.6,419.9 259.7,419.7 251.6,419.9C243.5,420.2 235.2,420.8 225.3,421C215.3,421.2 201.9,421.2 191.9,421C181.9,420.8 174.1,421 165.2,420C156.3,419 146.3,417.2 138.5,415C130.7,412.8 125.1,409.9 118.5,407C111.8,404.1 105.7,400.6 98.4,397.6C91.2,394.7 82.9,391.5 75.1,389.3C67.3,387.1 60,385.7 51.7,384.3C43.3,382.9 33.3,381.8 25,381C16.6,380.1 10.5,379.7 1.6,379.3C-7.3,378.8 -23.4,378.5 -28.4,378.3Z" fill="#63ff94" stroke="#63ff94" stroke-width="0.7"/>
<path d="M1362.3,172.9C1357.1,172.6 1340.7,171.8 1331.3,171.2C1321.8,170.7 1314.3,170.5 1305.5,169.5C1296.8,168.6 1287.7,166.8 1278.8,165.5C1269.9,164.3 1259.9,162.9 1252.1,162.2C1244.3,161.5 1238.8,161.4 1232.1,161.2C1225.4,161 1219.9,160.9 1212.1,161.2C1204.3,161.5 1194.3,162.5 1185.4,162.9C1176.5,163.3 1167.6,163.3 1158.6,163.5C1149.7,163.8 1140.3,163.8 1131.9,164.5C1123.6,165.3 1116.4,166 1108.6,167.9C1100.8,169.7 1092.4,172.5 1085.2,175.6C1078,178.6 1070.5,182.5 1065.2,186.2C1059.9,190 1056,194 1053.5,197.9C1051,201.8 1049.9,205.4 1050.1,209.6C1050.4,213.8 1052.7,218.5 1055.2,223C1057.7,227.4 1062.4,231.3 1065.2,236.3C1068,241.3 1071.3,247.4 1071.8,253C1072.4,258.6 1069.6,264.5 1068.5,269.7C1067.4,274.9 1065.2,279.2 1065.2,284.4C1065.2,289.7 1066.3,296.1 1068.5,301.1C1070.7,306.1 1074.6,310.3 1078.5,314.5C1082.4,318.7 1086.9,322.7 1091.9,326.2C1096.9,329.6 1103.6,332.9 1108.6,335.2C1113.5,337.5 1116.6,338.5 1121.6,340.2C1126.6,341.9 1133,343.8 1138.7,345.3C1144.4,346.9 1150.1,348.3 1155.8,349.6C1161.5,350.9 1167.1,351.9 1172.8,353C1178.5,354.1 1184.2,355.3 1189.9,356.4C1195.6,357.6 1201.3,358.8 1207,359.8C1212.7,360.9 1218.4,361.9 1224.1,362.9C1229.8,363.9 1235.5,364.9 1241.2,365.8C1246.9,366.7 1252.6,367.6 1258.2,368.4C1263.9,369.2 1269.6,369.9 1275.3,370.6C1281,371.3 1286.7,372 1292.4,372.6C1298.1,373.2 1303.4,373.8 1309.5,374.2C1315.6,374.6 1317.7,374.8 1329.1,375.2C1340.5,375.7 1369.7,376.6 1377.8,376.9Z" fill="#63ff94" stroke="#63ff94" stroke-width="0.7"/>
<path d="M370,149.5C372.5,149 379.2,146.6 385,146.2C390.9,145.7 398.9,146 405.1,146.8C411.2,147.7 416.7,149.6 421.8,151.2C426.8,152.7 434.6,153.4 435.1,156.2C435.7,159 430.1,165.6 425.1,167.9C420.1,170.1 411.2,169.8 405.1,169.5C398.9,169.3 393.4,167.9 388.4,166.2C383.4,164.5 378.1,162.3 375,159.5C372,156.7 370.8,151.2 370,149.5Z" fill="#63ff94" stroke="#63ff94" stroke-width="0.7"/>
<path d="M-28.4,195.6C-23.4,195.7 -8.4,195.8 1.6,196C11.6,196.2 21.1,196.6 31.7,197C42.2,197.4 53.9,197.8 65,198.3C76.2,198.9 87.3,199.6 98.4,200.3C109.6,201 120.7,201.7 131.8,202.7C142.9,203.6 154.1,204.9 165.2,206C176.3,207.1 188.6,208.2 198.6,209.3C208.6,210.4 216.4,211.8 225.3,212.7C234.1,213.5 242.8,213.6 251.7,214.3C260.5,215.1 270.1,216.2 278.4,217C286.7,217.8 294.7,218.5 301.6,219C308.5,219.5 313.6,219.7 319.6,220.1C325.6,220.5 331.6,220.8 337.6,221.2C343.6,221.7 349.6,222.1 355.6,222.8C361.6,223.6 367.6,224.7 373.6,225.7C379.7,226.8 385.7,227.8 391.7,229.1C397.7,230.4 403.7,231.7 409.7,233.6C415.7,235.5 422.1,237.9 427.7,240.4C433.3,242.8 438.8,245.4 443.4,248.3C448.1,251.1 453,254.5 455.8,257.3C458.6,260.1 461.3,261.4 460.3,265.1C459.4,268.9 453.8,276.2 450.2,279.8C446.6,283.3 442.7,284.5 438.9,286.5C435.2,288.6 431.1,290.1 427.7,292.2C424.3,294.2 421.3,296.3 418.7,298.9C416.1,301.5 414,304.7 411.9,307.9C409.9,311.1 408.2,314.5 406.3,318.1C404.4,321.6 402.7,325.4 400.7,329.3C398.6,333.3 396,337.9 393.9,341.7C391.8,345.5 393.2,347.4 388.3,351.8C383.3,356.2 370.4,363.3 364.2,368.1C357.9,372.9 355.2,376.8 350.7,380.5C346.2,384.3 342.4,387.5 337.2,390.6C331.9,393.8 325.9,397.2 319.1,399.6C312.4,402.1 304.1,403.9 296.6,405.3C289.1,406.7 281.6,407.5 274.1,408.2C266.6,409 259.7,409.4 251.6,409.8C243.5,410.1 235.2,410.2 225.3,410.3C215.3,410.4 201.9,410.5 191.9,410.3C181.9,410.2 174.1,410.3 165.2,409.3C156.3,408.3 146.3,406.4 138.5,404.3C130.7,402.3 125.1,399.8 118.5,397C111.8,394.2 105.7,390.6 98.4,387.6C91.2,384.7 82.9,381.4 75.1,379.3C67.3,377.2 60,376.2 51.7,374.9C43.3,373.7 33.3,372.4 25,371.6C16.6,370.8 10.5,370.6 1.6,370.3C-7.3,369.9 -23.4,369.7 -28.4,369.6Z" fill="#97ff60" stroke="#97ff60" stroke-width="0.7"/>
<path d="M1362.3,197.6C1357.1,197.5 1340.7,197.1 1331.3,196.9C1321.8,196.7 1314.3,196.9 1305.5,196.2C1296.8,195.6 1287.7,194.3 1278.8,192.9C1269.9,191.5 1259.9,189.5 1252.1,187.9C1244.3,186.3 1238.8,184.7 1232.1,183.6C1225.4,182.4 1217.6,181.1 1212.1,181.2C1206.5,181.4 1203.2,182.6 1198.7,184.6C1194.3,186.5 1190.4,189.6 1185.4,192.9C1180.3,196.2 1174.2,200.7 1168.7,204.6C1163.1,208.5 1157,212.1 1152,216.3C1147,220.5 1143.1,224.6 1138.6,229.6C1134.2,234.6 1129.7,240.8 1125.3,246.3C1120.8,251.9 1115.8,257.5 1111.9,263C1108,268.6 1105.2,273.9 1101.9,279.7C1098.6,285.5 1092.4,292.6 1091.9,297.8C1091.3,303 1095.2,307.4 1098.6,311.2C1101.9,314.9 1108.1,318.4 1111.9,320.5C1115.8,322.6 1117.7,322.4 1121.6,324C1125.5,325.5 1130.7,328.2 1135.3,329.9C1139.8,331.7 1144.4,333.1 1148.9,334.6C1153.5,336 1157.8,337.1 1162.6,338.5C1167.4,339.9 1172.6,341.3 1178,342.8C1183.4,344.2 1189.1,345.6 1195,347C1201,348.4 1207.6,350 1213.8,351.3C1220.1,352.6 1226.4,353.9 1232.6,355.1C1238.9,356.2 1245.4,357.4 1251.4,358.5C1257.4,359.5 1262.8,360.4 1268.5,361.2C1274.2,362 1279.9,362.6 1285.6,363.3C1291.3,363.9 1297,364.4 1302.7,365C1308.3,365.5 1315.3,366 1319.7,366.3C1324.1,366.6 1319.5,366.3 1329.1,366.7C1338.8,367 1369.7,368.1 1377.8,368.4Z" fill="#97ff60" stroke="#97ff60" stroke-width="0.7"/>
<path d="M-28.4,211C-23.4,211 -8.4,211 1.6,211C11.6,211 21.1,211 31.7,211C42.2,211 53.9,210.7 65,211C76.2,211.3 87.3,212 98.4,212.7C109.6,213.3 120.7,214.1 131.8,215C142.9,216 154.1,217.1 165.2,218.3C176.3,219.6 188.6,221.2 198.6,222.7C208.6,224.1 216.4,226.1 225.3,227C234.2,228 243.2,227.6 252,228.4C260.9,229.1 270.1,230.3 278.4,231.7C286.6,233.1 295.5,235.7 301.6,237C307.7,238.3 310.2,238.3 315.1,239.3C320,240.2 325.6,241.7 330.9,242.6C336.1,243.6 341,244.2 346.6,244.9C352.3,245.6 358.6,246.1 364.6,246.7C370.6,247.2 376.7,247.5 382.7,248.3C388.7,249 395,249.9 400.7,251.2C406.3,252.4 411.9,253.9 416.4,255.7C420.9,257.5 425.6,258.5 427.7,261.8C429.8,265 429.8,271.9 428.8,275.3C427.9,278.7 424.5,280 422.1,282C419.6,284 417.7,284.2 414.2,287.2C410.6,290.2 403.7,296.6 400.7,300C397.7,303.5 397.7,305.1 396.2,307.9C394.7,310.7 393.4,313.6 391.7,316.9C390,320.3 388.1,324.4 386,328.2C384,331.9 381.6,335.7 379.3,339.4C376.9,343.2 378.9,345.2 371.8,350.7C364.8,356.2 345.9,367.3 337.2,372.6C328.4,378 325.9,379.8 319.1,382.8C312.4,385.8 304.1,388.6 296.6,390.6C289.1,392.7 281.6,394 274.1,395.1C266.6,396.3 259.7,396.6 251.6,397.4C243.5,398.2 235.2,399.5 225.3,400C215.3,400.5 201.9,400.4 191.9,400.3C181.9,400.2 174.1,400.2 165.2,399.3C156.3,398.4 146.3,396.8 138.5,395C130.7,393.1 125.1,390.7 118.5,388.3C111.8,385.9 105.1,382.9 98.4,380.3C91.8,377.7 85.1,374.7 78.4,372.6C71.7,370.5 65.6,369.2 58.4,367.6C51.1,366 44.5,364.4 35,363.2C25.5,362.1 12.2,361.2 1.6,360.6C-9,360 -23.4,359.7 -28.4,359.6Z" fill="#caff2c" stroke="#caff2c" stroke-width="0.7"/>
<path d="M1362.3,219.6C1357.1,219.6 1340.7,219.5 1331.3,219.6C1321.8,219.7 1314.3,220.4 1305.5,220.3C1296.8,220.2 1287.7,219.3 1278.8,219C1269.9,218.6 1261,217.8 1252.1,217.9C1243.2,218.1 1234.3,218.5 1225.4,219.6C1216.5,220.7 1207.1,222.4 1198.7,224.6C1190.4,226.9 1182.6,229.9 1175.3,233C1168.1,236 1161.4,239.4 1155.3,243C1149.2,246.6 1143.6,250.5 1138.6,254.7C1133.6,258.8 1128.7,263.6 1125.3,268C1121.8,272.5 1119.5,277.3 1117.9,281.4C1116.4,285.5 1115.3,288 1115.9,292.8C1116.5,297.6 1118.9,306.5 1121.6,310.3C1124.3,314.1 1128.1,313.7 1131.8,315.4C1135.5,317.1 1139.8,318.8 1143.8,320.6C1147.8,322.3 1151.5,324 1155.8,325.7C1160,327.3 1164.9,329 1169.4,330.5C1174,331.9 1178,333.1 1183.1,334.6C1188.2,336 1194.5,337.8 1200.2,339.3C1205.9,340.8 1211.6,342.2 1217.3,343.6C1222.9,345 1228.6,346.3 1234.3,347.5C1240,348.7 1245.7,349.8 1251.4,350.8C1257.1,351.8 1262.8,352.7 1268.5,353.5C1274.2,354.3 1279.9,354.9 1285.6,355.6C1291.3,356.2 1297,356.8 1302.7,357.3C1308.3,357.8 1315.3,358.2 1319.7,358.5C1324.1,358.8 1319.5,358.6 1329.1,359C1338.8,359.4 1369.7,360.4 1377.8,360.7Z" fill="#caff2c" stroke="#caff2c" stroke-width="0.7"/>
<path d="M-28.4,227.7C-23.4,227.6 -8.4,227.3 1.6,227C11.6,226.7 21.1,226.4 31.7,226C42.2,225.7 53.9,225.2 65,225C76.2,224.9 87.3,224.7 98.4,225C109.6,225.4 120.7,226.1 131.8,227C142.9,227.9 154.1,228.9 165.2,230.4C176.3,231.9 187.5,233.6 198.6,236C209.7,238.5 222,242.5 232,245.1C242,247.6 250.3,249.3 258.7,251.1C267,252.8 274.9,253.8 282.1,255.7C289.2,257.7 295.3,260.8 301.6,262.9C307.9,265 313.6,266.5 319.6,268.5C325.6,270.6 332,274 337.6,275.3C343.3,276.6 348.9,276.8 353.4,276.4C357.9,276 360.9,274 364.6,273C368.4,272.1 372.1,271 375.9,270.8C379.7,270.5 384.1,269.6 387.2,271.5C390.2,273.3 394.7,278.4 394.4,282C394,285.7 386.7,289.9 384.9,293.3C383.1,296.7 384.5,299.1 383.8,302.3C383,305.5 381.9,309.1 380.4,312.4C378.9,315.8 376.8,319.2 374.8,322.6C372.7,325.9 370.8,329.5 368,332.7C365.2,335.9 361.8,338.7 357.9,341.7C353.9,344.7 350.8,347.1 344.4,350.7C337.9,354.4 327.1,359.8 319.1,363.6C311.2,367.5 304.1,370.9 296.6,373.8C289.1,376.6 281.6,378.8 274.1,380.5C266.6,382.2 257.5,383.3 251.6,383.9C245.7,384.5 246.4,383.7 238.6,384.3C230.9,384.9 216.4,387 205.3,387.6C194.1,388.3 181.3,388.4 171.9,388.3C162.4,388.2 156.3,387.9 148.5,387C140.7,386 132.4,384.5 125.1,382.6C117.9,380.8 111.8,378.3 105.1,375.9C98.4,373.6 92.9,371.9 85.1,368.6C77.3,365.3 68.4,359 58.4,356.2C48.4,353.5 34.4,353.1 25,352.2C15.5,351.4 10.5,351.5 1.6,351.2C-7.3,350.9 -23.4,350.7 -28.4,350.6Z" fill="#feed00" stroke="#feed00" stroke-width="0.7"/>
<path d="M1362.3,238.3C1357.1,238.4 1340.7,238.6 1331.3,239C1321.8,239.3 1314.3,240.1 1305.5,240.3C1296.8,240.5 1287.7,240.3 1278.8,240.3C1269.9,240.3 1261,240 1252.1,240.3C1243.2,240.7 1234.3,241 1225.4,242.3C1216.5,243.6 1207.1,245.7 1198.7,248C1190.4,250.3 1182,253.6 1175.3,256.3C1168.7,259.1 1163.7,261.6 1158.6,264.7C1153.6,267.7 1148.6,271.4 1145.3,274.7C1142,278 1139.4,280.4 1138.6,284.7C1137.9,289 1138.7,296.1 1140.7,300.4C1142.7,304.7 1147.3,307.5 1150.6,310.3C1154,313.1 1157.2,315.1 1160.9,317.1C1164.6,319.1 1168.6,320.7 1172.8,322.3C1177.1,323.8 1182,325.2 1186.5,326.5C1191.1,327.9 1195,329 1200.2,330.5C1205.3,331.9 1211.6,333.6 1217.3,335.1C1222.9,336.5 1228.6,338.1 1234.3,339.3C1240,340.6 1245.7,341.8 1251.4,342.8C1257.1,343.8 1262.8,344.5 1268.5,345.3C1274.2,346.1 1279.9,346.9 1285.6,347.5C1291.3,348.2 1297,348.8 1302.7,349.2C1308.3,349.7 1315.3,350.2 1319.7,350.4C1324.1,350.7 1319.5,350.5 1329.1,350.8C1338.8,351.1 1369.7,351.9 1377.8,352.1Z" fill="#feed00" stroke="#feed00" stroke-width="0.7"/>
<path d="M-28.4,247.1C-23.4,246.9 -7.3,246.8 1.6,246.1C10.5,245.3 15.5,243.8 25,242.7C34.4,241.6 47.2,240.1 58.4,239.4C69.5,238.7 80.6,238.5 91.8,238.4C102.9,238.2 114,238 125.1,238.4C136.3,238.7 147.4,239.1 158.5,240.4C169.7,241.7 180.8,243.4 191.9,246.1C203,248.7 215.3,252.5 225.3,256.1C235.3,259.7 243.7,263.6 252,267.8C260.4,271.9 267.6,276.9 275.4,281.1C283.2,285.3 292.1,290.2 298.7,292.8C305.4,295.4 309.8,295.1 315.1,296.7C320.5,298.3 326,300.2 330.9,302.3C335.7,304.4 342.1,306 344.4,309.1C346.6,312.1 346.3,317.3 344.4,320.3C342.5,323.3 337.2,325 333.1,327.1C329,329.1 324.9,330.6 319.6,332.7C314.4,334.8 307.3,337.2 301.6,339.4C295.9,341.7 291.4,343.4 285.4,346.2C279.3,349 272.6,353.2 265.4,356.2C258.1,359.3 249.8,362.3 242,364.6C234.2,366.8 227,368.2 218.6,369.6C210.3,371 200.8,372.1 191.9,372.9C183,373.8 173,374.9 165.2,374.6C157.4,374.3 151.8,373.2 145.2,371.2C138.5,369.3 131.8,366 125.1,362.9C118.5,359.8 112.3,355.7 105.1,352.9C97.9,350.1 89.5,347.9 81.7,346.2C73.9,344.5 66.7,343.7 58.4,342.9C50,342 41.1,341.5 31.7,341.2C22.2,340.9 11.6,341.2 1.6,341.2C-8.4,341.2 -23.4,341.2 -28.4,341.2Z" fill="#ffb200" stroke="#ffb200" stroke-width="0.7"/>
<path d="M1362.3,255.7C1357.1,255.8 1340.7,256.1 1331.3,256.3C1321.8,256.6 1314.3,256.8 1305.5,257C1296.8,257.2 1287.7,257.2 1278.8,257.3C1269.9,257.5 1261,257.3 1252.1,258C1243.2,258.7 1233.8,259.7 1225.4,261.4C1217.1,263 1209.7,265.7 1202.1,268C1194.4,270.3 1184.8,272.9 1179.7,275.3C1174.5,277.6 1172.7,278.4 1171.1,282.1C1169.6,285.8 1169.1,293.8 1170.3,297.5C1171.4,301.2 1174.7,302.2 1178,304.3C1181.2,306.5 1185.7,308.5 1189.9,310.3C1194.2,312.2 1198.5,313.7 1203.6,315.4C1208.7,317.1 1215,319 1220.7,320.6C1226.4,322.1 1232.1,323.4 1237.7,324.8C1243.4,326.2 1249.1,327.7 1254.8,329.1C1260.5,330.5 1266.2,332.1 1271.9,333.4C1277.6,334.6 1283.3,335.7 1289,336.8C1294.7,337.8 1300.9,338.9 1306.1,339.7C1311.2,340.4 1315.9,341 1319.7,341.4C1323.6,341.8 1319.5,341.5 1329.1,341.9C1338.8,342.3 1369.7,343.3 1377.8,343.6Z" fill="#ffb200" stroke="#ffb200" stroke-width="0.7"/>
<path d="M-28.4,284.4C-23.4,283.3 -6.2,280.6 1.6,277.8C9.4,275 11.6,271.1 18.3,267.8C25,264.4 33.3,260.4 41.7,257.7C50,255.1 58.9,253.2 68.4,251.7C77.8,250.2 87.9,249.4 98.4,248.7C109,248.1 120.7,247.6 131.8,247.7C142.9,247.8 154.1,248 165.2,249.4C176.3,250.8 188.6,253.3 198.6,256.1C208.6,258.9 216.9,262.2 225.3,266.1C233.6,270 242,274.4 248.7,279.4C255.3,284.4 261.6,290.8 265.4,296.1C269.1,301.4 271.4,306.4 271.4,311.2C271.4,315.9 269.1,320.3 265.4,324.5C261.6,328.7 255.3,333.1 248.7,336.2C242,339.3 233.6,341.2 225.3,342.9C216.9,344.5 207.5,344.9 198.6,346.2C189.7,347.5 179.7,349.4 171.9,350.6C164.1,351.7 158.5,353.1 151.8,352.9C145.2,352.7 138.5,351.5 131.8,349.5C125.1,347.6 118.5,343.7 111.8,341.2C105.1,338.7 99,336.2 91.8,334.5C84.5,332.9 76.7,332 68.4,331.2C60,330.4 50,329.8 41.7,329.5C33.3,329.2 25,329.5 18.3,329.5C11.6,329.5 9.4,329.5 1.6,329.5C-6.2,329.5 -23.4,329.5 -28.4,329.5Z" fill="#ff7700" stroke="#ff7700" stroke-width="0.7"/>
<path d="M1377.8,286.4C1369.7,286.4 1338.8,286.5 1329.1,286.7C1319.5,287 1323.6,287.9 1319.7,287.8C1315.9,287.6 1311.2,287 1306.1,286C1300.9,285.1 1294.7,283.5 1289,282.1C1283.3,280.8 1277.6,278.8 1271.9,277.8C1266.2,276.9 1260.5,276.3 1254.8,276.5C1249.1,276.6 1242.9,277.3 1237.7,278.7C1232.6,280.1 1227.6,282.5 1224.1,284.7C1220.5,286.8 1215.3,288 1216.4,291.5C1217.5,295.1 1226.2,302.8 1230.9,306C1235.6,309.3 1239.5,309.4 1244.6,311.2C1249.7,312.9 1256,314.7 1261.7,316.3C1267.4,317.8 1273,319.2 1278.7,320.6C1284.4,321.9 1290.1,323.2 1295.8,324.3C1301.5,325.4 1307.4,326.4 1312.9,327C1318.5,327.7 1318.3,327.8 1329.1,328.2C1339.9,328.7 1369.7,329.7 1377.8,329.9Z" fill="#ff7700" stroke="#ff7700" stroke-width="0.7"/>
<path d="M55.7,292.8C57,291.1 59.6,286.1 63.4,282.8C67.2,279.4 72.6,275.7 78.4,272.8C84.2,269.8 90.6,267 98.4,265.1C106.2,263.1 116.2,261.9 125.1,261.1C134,260.3 142.9,260 151.8,260.4C160.8,260.9 170.2,262 178.6,263.7C186.9,265.5 195,267.9 201.9,271.1C208.9,274.3 215.7,278.9 220.3,282.8C224.9,286.7 227.9,290.8 229.3,294.5C230.7,298.1 230.4,301.4 228.6,304.5C226.9,307.5 223.6,310.6 218.6,312.8C213.6,315.1 205.8,316.3 198.6,317.8C191.4,319.3 183.6,320.8 175.2,321.8C166.9,322.8 156.9,324 148.5,323.8C140.2,323.7 132.9,322.7 125.1,321.2C117.4,319.6 109,316.7 101.8,314.5C94.5,312.3 87.9,310 81.7,307.8C75.6,305.6 69.4,303.6 65,301.1C60.7,298.6 57.3,294.2 55.7,292.8Z" fill="#ff3b00" stroke="#ff3b00" stroke-width="0.7"/>
<use href="#coast"/>
</g>
<rect x="0" y="0" width="1331.2" height="655.7" fill="none" stroke="#000" stroke-width="3.33"/>
<text transform="translate(179.40,-24.60) scale(1.0970,1)" font-size="51" xml:space="preserve">Combined (GIM), 2011-07-09 00:00 UT</text>
<rect x="0" y="699" width="1331.2" height="66" fill="#0000a4"/>
<rect x="83.2" y="699" width="1248" height="66" fill="#0000ed"/>
<rect x="166.4" y="699" width="1164.8" height="66" fill="#0020ff"/>
<rect x="249.6" y="699" width="1081.6" height="66" fill="#0060ff"/>
<rect x="332.8" y="699" width="998.4" height="66" fill="#00a0ff"/>
<rect x="416" y="699" width="915.2" height="66" fill="#00e0fb"/>
<rect x="499.2" y="699" width="832" height="66" fill="#30ffc7"/>
<rect x="582.4" y="699" width="748.8" height="66" fill="#63ff94"/>
<rect x="665.6" y="699" width="665.6" height="66" fill="#97ff60"/>
<rect x="748.8" y="699" width="582.4" height="66" fill="#caff2c"/>
<rect x="832" y="699" width="499.2" height="66" fill="#feed00"/>
<rect x="915.2" y="699" width="416" height="66" fill="#ffb200"/>
<rect x="998.4" y="699" width="332.8" height="66" fill="#ff7700"/>
<rect x="1081.6" y="699" width="249.6" height="66" fill="#ff3b00"/>
<rect x="1164.8" y="699" width="166.4" height="66" fill="#e80000"/>
<rect x="1248" y="699" width="83.2" height="66" fill="#9f0000"/>
<rect x="0" y="699" width="1331.2" height="66" fill="none" stroke="#000" stroke-width="3.33"/>
<line x1="0" y1="765" x2="0" y2="779.6" stroke="#000" stroke-width="3.33"/>
<text transform="translate(-11.84,826.30) scale(0.9830,1)" font-size="43.6" xml:space="preserve">0</text>
<line x1="166.4" y1="765" x2="166.4" y2="779.6" stroke="#000" stroke-width="3.33"/>
<text transform="translate(154.71,826.30) scale(0.9413,1)" font-size="43.6" xml:space="preserve">5</text>
<line x1="332.8" y1="765" x2="332.8" y2="779.6" stroke="#000" stroke-width="3.33"/>
<text transform="translate(307.72,826.30) scale(1.0418,1)" font-size="43.6" xml:space="preserve">10</text>
<line x1="499.2" y1="765" x2="499.2" y2="779.6" stroke="#000" stroke-width="3.33"/>
<text transform="translate(474.18,826.30) scale(1.0212,1)" font-size="43.6" xml:space="preserve">15</text>
<line x1="665.6" y1="765" x2="665.6" y2="779.6" stroke="#000" stroke-width="3.33"/>
<text transform="translate(639.95,826.30) scale(1.0550,1)" font-size="43.6" xml:space="preserve">20</text>
<line x1="832" y1="765" x2="832" y2="779.6" stroke="#000" stroke-width="3.33"/>
<text transform="translate(806.39,826.30) scale(1.0349,1)" font-size="43.6" xml:space="preserve">25</text>
<line x1="998.4" y1="765" x2="998.4" y2="779.6" stroke="#000" stroke-width="3.33"/>
<text transform="translate(973.70,826.30) scale(1.0326,1)" font-size="43.6" xml:space="preserve">30</text>
<line x1="1164.8" y1="765" x2="1164.8" y2="779.6" stroke="#000" stroke-width="3.33"/>
<text transform="translate(1140.13,826.30) scale(1.0129,1)" font-size="43.6" xml:space="preserve">35</text>
<line x1="1331.2" y1="765" x2="1331.2" y2="779.6" stroke="#000" stroke-width="3.33"/>
<text transform="translate(1305.79,826.30) scale(1.0489,1)" font-size="43.6" xml:space="preserve">40</text>
</g>
<g transform="translate(78.4,1117.6)">
<g clip-path="url(#mc)">
<rect x="-2" y="-2" width="1335.2" height="659.7" fill="#0000ed"/>
<path d="M312.4,477.1C313.5,476 315.8,472.2 319.1,470.4C322.5,468.5 327.4,467.7 332.7,465.9C337.9,464 344.7,461.7 350.7,459.1C356.7,456.5 362.7,453.3 368.7,450.1C374.7,446.9 380.7,443.4 386.7,440C392.7,436.6 398.7,432.8 404.7,429.8C410.7,426.8 416.7,424.8 422.7,422C428.7,419.2 435.5,416.3 440.7,413C446,409.6 450.1,405.5 454.2,401.7C458.4,397.9 461.4,394.6 465.5,390.4C469.6,386.3 474.5,381.2 479,376.9C483.5,372.6 488,368.3 492.5,364.6C497,360.8 501.1,357 506,354.4C511,351.8 517.6,349.6 522.1,348.9C526.7,348.3 528.9,349.7 533.4,350.7C537.9,351.8 543.5,353.8 549.1,355.2C554.8,356.7 561.2,358 567.2,359.3C573.2,360.6 579.2,361.7 585.2,363.1C591.2,364.5 597.2,366.1 603.2,367.6C609.2,369.1 615.9,371.1 621.2,372.1C626.4,373.1 630.6,373.6 634.7,373.7C638.8,373.8 642.2,373.6 646,372.8C649.7,372 653.8,370.7 657.2,368.8C660.6,366.8 663.8,363.9 666.2,360.9C668.7,357.9 670.7,354.3 671.9,350.7C673.1,347.2 673.6,342.9 673.4,339.5C673.2,336.1 672.3,333.1 670.7,330.5C669.2,327.8 666.6,325.8 664,323.7C661.3,321.7 658.7,319.4 655,318.1C651.2,316.8 646.7,316.4 641.5,315.8C636.2,315.3 629.5,315.2 623.4,314.7C617.4,314.2 611.1,313.7 605.4,312.9C599.8,312.1 594.2,311.1 589.7,309.8C585.2,308.4 580.3,308.1 578.4,304.6C576.5,301.1 576.5,292.8 578.4,288.8C580.3,284.9 585.5,283.3 589.7,280.9C593.8,278.6 598.3,276.2 603.2,274.6C608.1,273.1 613.7,271.9 618.9,271.5C624.2,271.1 629.8,271.4 634.7,272.4C639.6,273.4 643.7,275.6 648.2,277.6C652.7,279.6 657.6,282.3 661.7,284.3C665.9,286.3 668.5,288.1 673,289.5C677.5,290.9 683.1,292.2 688.7,292.6C694.4,293.1 700.8,292.6 706.8,292.2C712.8,291.7 718.8,290.9 724.8,289.9C730.8,289 737.2,287.9 742.8,286.6C748.4,285.3 754.3,283.8 758.5,282.1C762.8,280.3 764.6,278.9 768.4,275.9C772.3,272.9 777.4,268.7 781.8,264.2C786.3,259.8 790.7,253.4 795.2,249.2C799.6,245 802.9,241.7 808.5,239.2C814.1,236.7 821.3,235.4 828.5,234.2C835.8,232.9 843.6,232.6 851.9,231.5C860.3,230.4 870.8,229.8 878.6,227.5C886.4,225.2 892.5,218.9 898.6,217.5C904.8,216.1 909.2,216.9 915.3,219.1C921.5,221.4 928.7,226.8 935.4,230.8C942.1,234.9 948.7,239.3 955.4,243.5C962.1,247.7 969.3,251.3 975.4,255.9C981.6,260.4 987.1,265.1 992.1,270.9C997.1,276.7 1001.6,284.2 1005.5,290.9C1009.4,297.6 1012.7,304.3 1015.5,311C1018.3,317.6 1019.9,323.8 1022.2,331C1024.4,338.2 1026.9,346.6 1028.9,354.4C1030.8,362.1 1032.9,370.5 1033.9,377.7C1034.9,385 1035.1,391.6 1034.9,397.8C1034.6,403.9 1035.7,409.9 1032.2,414.4C1028.7,419 1021.6,424.3 1013.8,425.1C1006,426 995.7,421.3 985.5,419.5C975.2,417.6 963.2,415 952.1,413.8C940.9,412.6 929.8,412.3 918.7,412.1C907.6,411.9 895.3,412.5 885.3,412.8C875.3,413.1 866.4,412.7 858.6,413.8C850.8,414.9 846.3,417.2 838.6,419.5C830.8,421.7 820.8,424.6 811.8,427.1C802.9,429.6 794,432.4 785.1,434.5C776.2,436.5 766.8,437.5 758.4,439.5C750.1,441.4 742.3,443.4 735.1,446.2C727.8,448.9 721.2,452.6 715,456.2C708.9,459.7 705.6,464.7 698.3,467.6C691.1,470.5 679.4,471.9 671.6,473.6C663.8,475.2 656.5,475.5 651.6,477.6C646.7,479.6 648.1,482.6 642.1,485.9C636.1,489.3 624.3,494.4 615.4,497.6C606.5,500.8 597.6,503.6 588.7,504.9C579.8,506.3 570.9,506.6 562,505.9C553.1,505.3 544.2,503.2 535.3,500.9C526.4,498.7 516.9,494.2 508.6,492.6C500.2,491 493,490.5 485.2,491.6C477.4,492.7 469.6,496.6 461.8,499.3C454,501.9 446.2,505.4 438.4,507.6C430.7,509.8 423.4,512 415.1,512.6C406.7,513.3 396.7,512.7 388.4,511.6C380,510.5 372.8,508.3 365,505.9C357.2,503.6 348.9,500.7 341.6,497.6C334.4,494.5 326.5,491 321.6,487.6C316.7,484.2 313.9,478.9 312.4,477.1Z" fill="#0000a4" stroke="#0000a4" stroke-width="0.7"/>
<path d="M-28.4,631.1C-23.4,630.5 -7.3,628.5 1.6,627.1C10.5,625.7 15.5,624.5 25,622.8C34.4,621.1 47.2,618.6 58.4,617.1C69.5,615.6 80.6,614.9 91.8,613.8C102.9,612.7 114,611.4 125.1,610.4C136.3,609.4 147.4,608.3 158.5,607.8C169.7,607.2 180.8,607.1 191.9,607.1C203,607.1 214.2,607.4 225.3,607.8C236.4,608.2 247.6,608.9 258.7,609.4C269.8,610 280.9,610.4 292.1,611.1C303.2,611.8 314.3,613.1 325.5,613.8C336.6,614.4 347.7,614.9 358.8,615.1C370,615.3 385.1,615.1 392.2,615.1C399.4,615.1 394.6,615.3 401.7,615.1C408.9,614.9 425.1,614.4 435.1,613.8C445.1,613.1 454.9,612.4 461.8,611.1C468.8,609.8 473.2,608.3 476.8,606.1C480.5,603.9 483.8,601.1 483.5,597.8C483.2,594.4 478.2,590 475.2,586.1C472.1,582.2 468.5,578 465.2,574.4C461.8,570.8 455.1,567 455.1,564.4C455.1,561.7 459.6,560.1 465.2,558.4C470.7,556.6 479.1,555.2 488.5,553.7C498,552.2 510.8,550.6 521.9,549.3C533,548.1 544.2,547.1 555.3,546C566.4,544.9 577.6,543.8 588.7,542.7C599.8,541.6 610.9,540.4 622.1,539.3C633.2,538.2 644.3,537.7 655.5,536C666.6,534.3 677.7,532.1 688.8,529.3C700,526.5 711.8,522.5 722.2,519.3C732.7,516.1 745,512.5 751.6,510.3C758.2,508.1 755.1,508 761.8,505.9C768.5,503.9 782.4,500.8 791.8,498.3C801.3,495.8 809.6,493.2 818.5,490.9C827.4,488.7 836.3,486.3 845.2,484.9C854.1,483.5 863,483.2 871.9,482.6C880.8,481.9 889.7,481.9 898.6,480.9C907.6,480 916.5,478.5 925.4,476.9C934.3,475.3 943.2,473.7 952.1,471.6C961,469.4 971,466.3 978.8,464.2C986.6,462.2 992.1,460.6 998.8,459.2C1005.5,457.8 1012.2,456.3 1018.8,455.9C1025.5,455.5 1030,455 1038.9,456.9C1047.7,458.7 1061.9,463.4 1071.8,466.9C1081.8,470.3 1090.8,473.6 1098.6,477.6C1106.3,481.6 1112.5,485.9 1118.6,490.9C1124.7,495.9 1130.3,502.1 1135.3,507.6C1140.3,513.2 1144.2,518.7 1148.6,524.3C1153.1,529.9 1158.1,536 1162,541C1165.9,546 1170.3,550.5 1172,554.4C1173.7,558.3 1173.4,561.3 1172,564.4C1170.6,567.4 1167.6,569.7 1163.7,572.7C1159.8,575.8 1153.9,579.1 1148.6,582.7C1143.3,586.4 1136.4,590.5 1131.9,594.4C1127.5,598.3 1123,602.2 1121.9,606.1C1120.8,610 1121.4,614.4 1125.3,617.8C1129.2,621.1 1136.4,623.9 1145.3,626.1C1154.2,628.4 1167.6,630 1178.7,631.1C1189.8,632.3 1200.9,632.5 1212.1,632.8C1223.2,633.1 1234.3,632.9 1245.5,632.8C1256.6,632.7 1268.8,632.4 1278.8,632.1C1288.9,631.9 1296.8,631.6 1305.5,631.1C1314.3,630.7 1321.8,629.9 1331.3,629.5C1340.7,629 1355.6,618.8 1362.3,628.5C1369,638.1 1605,677.6 1371.6,687.4C1138.2,697.2 196.6,687.4 -38.4,687.4Z" fill="#0000a4" stroke="#0000a4" stroke-width="0.7"/>
<path d="M278.7,554.4C280.9,553.2 286.5,549.6 292.1,547.7C297.6,545.7 304.3,543.7 312.1,542.7C319.9,541.7 329.9,541.4 338.8,541.7C347.7,541.9 357.7,543.1 365.5,544.3C373.3,545.6 379.7,548 385.5,549.3C391.4,550.7 401.1,550.7 400.6,552.7C400,554.6 389.2,558.8 382.2,561C375.3,563.3 367.2,564.8 358.8,566C350.5,567.3 340.5,568.2 332.1,568.7C323.8,569.3 316,570.1 308.8,569.4C301.5,568.7 293.7,566.9 288.7,564.4C283.7,561.9 280.4,556 278.7,554.4Z" fill="#0000a4" stroke="#0000a4" stroke-width="0.7"/>
<path d="M707.7,609.4C709.5,607.8 713.3,601.7 718.4,599.4C723.5,597.2 731.7,596.5 738.4,596.1C745.1,595.7 753.1,596.5 758.4,597.1C763.7,597.6 770.4,597.4 770.1,599.4C769.8,601.5 762,607.4 756.8,609.4C751.5,611.5 744.8,611.5 738.4,611.8C732,612.1 723.5,611.5 718.4,611.1C713.3,610.7 709.5,609.7 707.7,609.4Z" fill="#0000ed" stroke="#0000ed" stroke-width="0.7"/>
<path d="M1130.3,608.4C1132.2,606.2 1136.1,599 1142,595.1C1147.8,591.2 1156.4,587.3 1165.3,585.1C1174.2,582.8 1184.8,582 1195.4,581.7C1205.9,581.5 1217.6,582.3 1228.8,583.4C1239.9,584.5 1251,586.5 1262.1,588.4C1273.3,590.4 1286.9,593.4 1295.5,595.1C1304.2,596.8 1311.7,596.6 1313.9,598.4C1316.1,600.3 1312.2,603.4 1308.9,606.1C1305.5,608.8 1297.5,611.7 1293.9,614.4C1290.2,617.2 1290.5,620.3 1287.2,622.8C1283.8,625.3 1280.8,628.2 1273.8,629.5C1266.9,630.7 1255.7,630.1 1245.5,630.1C1235.2,630.1 1223.2,629.9 1212.1,629.5C1200.9,629.1 1189,629 1178.7,627.8C1168.4,626.6 1158.4,625.4 1150.3,622.1C1142.2,618.9 1133.6,610.7 1130.3,608.4Z" fill="#0020ff" stroke="#0020ff" stroke-width="0.7"/>
<path d="M-28.4,576.1C-23.4,575.2 -7.3,572.7 1.6,571C10.5,569.4 15.5,567.7 25,566C34.4,564.4 47.2,562.5 58.4,561C69.5,559.5 80.6,558.4 91.8,557C102.9,555.6 115.1,554.2 125.1,552.7C135.2,551.1 142.9,549.9 151.8,547.7C160.8,545.5 169.7,542.1 178.6,539.3C187.5,536.6 196.4,533.9 205.3,531C214.2,528 224.7,524.4 232,521.6C239.2,518.9 244.3,517.2 248.7,514.3C253,511.4 256.6,508.2 258,504.3C259.4,500.4 258.3,495.9 257,490.9C255.7,485.9 251.7,478.7 250.3,474.2C248.9,469.8 247.3,467.3 248.7,464.2C250.1,461.2 253.7,458.1 258.7,455.9C263.7,453.6 270.9,452 278.7,450.9C286.5,449.7 296.5,449.7 305.4,449.2C314.3,448.6 323.8,448.1 332.1,447.5C340.5,447 348.8,447.2 355.5,445.9C362.2,444.5 367.4,443.5 372.2,439.2C377,434.8 380.5,424.8 384.4,419.7C388.4,414.6 391.6,412.6 395.7,408.5C399.8,404.3 404.7,399.4 409.2,394.9C413.7,390.4 419,385.9 422.7,381.4C426.5,376.9 429.1,372.8 431.7,367.9C434.4,363 436.6,357 438.5,352.2C440.4,347.3 441.5,342.8 443,338.7C444.5,334.5 445.2,331.1 447.5,327.4C449.8,323.7 453.1,319.8 457,316.7C460.8,313.6 465.6,311.3 470.5,308.9C475.3,306.4 480.6,304.3 486.2,302.1C491.9,299.8 497.5,297.8 504.2,295.3C511,292.9 519.3,290.1 526.8,287.5C534.3,284.8 541.8,282.4 549.3,279.6C556.8,276.8 565.1,274.5 571.8,270.6C578.5,266.7 584.4,258.9 589.7,256.2C594.9,253.5 599.4,254.7 603.2,254.4C606.9,254 608.4,254 612.2,253.9C615.9,253.8 620.4,253.7 625.7,253.9C631,254.1 637.7,254.5 643.7,255C649.7,255.6 656.1,256.7 661.7,257.3C667.4,257.9 672.6,258.3 677.5,258.4C682.4,258.5 686.9,258.7 691,258C695.1,257.2 699.3,255.7 702.3,253.9C705.3,252.1 707.1,249.8 709,247.2C710.9,244.5 712.4,241.5 713.5,238.2C714.6,234.8 715,230.9 715.8,226.9C716.6,222.9 715.7,217.7 718.4,214.1C721,210.6 726.2,208 731.7,205.8C737.3,203.6 744,201.9 751.8,200.8C759.5,199.7 769.6,199.7 778.5,199.1C787.4,198.6 796.3,198.3 805.2,197.4C814.1,196.6 823,195.5 831.9,194.1C840.8,192.7 849.7,190.8 858.6,189.1C867.5,187.4 877.5,185.2 885.3,184.1C893.1,183 898.1,181.9 905.3,182.4C912.6,183 921.5,184.6 928.7,187.4C935.9,190.2 942.1,194.7 948.7,199.1C955.4,203.6 962.1,209.1 968.8,214.1C975.4,219.1 982.1,224.2 988.8,229.2C995.5,234.2 1002.7,239.2 1008.8,244.2C1014.9,249.2 1021.1,253.6 1025.5,259.2C1030,264.8 1032.7,270.6 1035.5,277.6C1038.3,284.5 1040,293.2 1042.2,300.9C1044.4,308.7 1046.7,316.5 1048.9,324.3C1051.1,332.1 1054.5,340.5 1055.6,347.7C1056.6,354.9 1053,361.9 1055.2,367.4C1057.3,372.9 1064.6,375.7 1068.5,380.7C1072.4,385.7 1075.7,391.3 1078.5,397.4C1081.3,403.5 1082.7,411.3 1085.2,417.5C1087.7,423.6 1089.7,428.9 1093.5,434.1C1097.4,439.4 1102.7,444.2 1108.6,449.2C1114.4,454.2 1121.9,459.5 1128.6,464.2C1135.3,469 1142.5,473.1 1148.6,477.6C1154.8,482 1159.8,486.2 1165.3,490.9C1170.9,495.7 1175.9,500.9 1182,505.9C1188.1,511 1194.8,516 1202.1,521C1209.3,526 1217.6,531 1225.4,536C1233.2,541 1241.6,546.3 1248.8,551C1256,555.7 1262.7,560.5 1268.8,564.4C1274.9,568.3 1279.4,572.1 1285.5,574.4C1291.6,576.7 1297.9,578.1 1305.5,578.4C1313.2,578.7 1321.8,577 1331.3,576.1C1340.7,575.1 1355.6,674.2 1362.3,572.7C1369,471.3 1605,68.3 1371.6,-32.6C1138.2,-133.5 196.6,-32.6 -38.4,-32.6Z" fill="#0020ff" stroke="#0020ff" stroke-width="0.7"/>
<path d="M-28.4,541C-23.4,540.4 -7.3,539.1 1.6,537.7C10.5,536.3 15.5,534.4 25,532.7C34.4,530.9 47.2,528.9 58.4,527C69.5,525 81.7,523.1 91.8,521C101.8,518.9 110.7,517.1 118.5,514.3C126.3,511.5 132.4,507.9 138.5,504.3C144.6,500.7 151.3,496.5 155.2,492.6C159.1,488.7 160.5,484.8 161.9,480.9C163.3,477 161.3,472.6 163.5,469.2C165.8,465.9 169.4,463.5 175.2,460.9C181.1,458.3 190.2,456 198.6,453.5C206.9,451 216.4,448.2 225.3,445.9C234.2,443.5 242,440.7 252,439.2C262,437.7 274.3,437.7 285.4,436.8C296.5,436 308.8,434.9 318.8,434.2C328.8,433.4 338.2,433.9 345.5,432.5C352.7,431.1 357.2,429.4 362.2,425.8C367.2,422.2 372.9,416.5 375.5,410.8C378.1,405.1 375.5,397 377.7,391.6C379.9,386.1 385.2,382.4 388.9,378.1C392.7,373.7 396.8,369.6 400.2,365.7C403.6,361.7 406.4,358.5 409.2,354.4C412,350.3 414.8,345.4 417.1,340.9C419.3,336.4 421,331.1 422.7,327.4C424.5,323.7 425.4,322.3 427.7,319C430,315.7 433.3,311.1 436.7,307.7C440.1,304.3 443.4,301.5 448,298.7C452.5,295.9 458.1,293.3 463.7,290.8C469.3,288.4 475,286.5 481.7,284.1C488.5,281.6 496.7,279 504.2,276.2C511.7,273.4 519.3,270.4 526.8,267.2C534.3,264 541.8,260.6 549.3,257.1C556.8,253.5 565.1,249.9 571.8,245.8C578.5,241.7 584.1,235.5 589.7,232.5C595.3,229.6 600.2,229.5 605.4,228C610.7,226.5 616.5,224.4 621.2,223.5C625.9,222.6 632.2,224.6 633.8,222.8C635.3,221 632.1,216.4 630.4,212.7C628.7,209.1 625.1,205 623.7,201.1C622.3,197.2 621.2,193.8 622.1,189.4C622.9,184.9 625.4,179.6 628.7,174.3C632.1,169.1 637.6,162.9 642.1,157.7C646.5,152.4 651,147.4 655.5,142.6C659.9,137.9 663.8,132.9 668.8,129.3C673.8,125.7 679.4,123.2 685.5,120.9C691.6,118.7 698.3,117.6 705.5,115.9C712.8,114.3 720.6,112.9 728.9,110.9C737.2,109 745.2,106.2 755.1,104.2C765.1,102.3 777.4,100.6 788.5,99.2C799.7,97.8 810.8,96.6 821.9,95.9C833,95.2 845.3,94.8 855.3,95.2C865.3,95.7 874.8,96.8 882,98.6C889.2,100.3 894.2,102.7 898.7,105.9C903.1,109.1 906.5,113.1 908.7,117.6C910.9,122 910.7,127.9 912.1,132.6C913.4,137.3 914.3,141.8 917.1,146C919.8,150.1 924,153.8 928.7,157.7C933.5,161.6 939.3,164.9 945.4,169.3C951.6,173.8 958.8,179.4 965.5,184.4C972.1,189.4 978.8,194.4 985.5,199.4C992.2,204.4 999.4,209.7 1005.5,214.4C1011.6,219.1 1017.2,223.3 1022.2,227.8C1027.2,232.2 1032.3,235.6 1035.6,241.1C1038.8,246.6 1040.5,254.8 1041.8,260.9C1043.1,267 1042.6,272 1043.5,277.6C1044.3,283.1 1045.1,288.7 1046.8,294.3C1048.5,299.8 1050.7,305.4 1053.5,311C1056.3,316.5 1059.9,322.6 1063.5,327.6C1067.1,332.7 1071.6,336.6 1075.2,341C1078.8,345.5 1082.1,350 1085.2,354.4C1088.3,358.7 1089.1,363.2 1093.5,367C1098,370.9 1106.6,374 1111.9,377.4C1117.2,380.8 1121.6,383.5 1125.3,387.4C1128.9,391.3 1131.9,395.8 1133.6,400.8C1135.3,405.8 1133.9,412.4 1135.3,417.5C1136.7,422.5 1138.1,427.2 1142,430.8C1145.9,434.4 1152.5,436.7 1158.6,439.2C1164.8,441.7 1172,443.6 1178.7,445.8C1185.4,448.1 1192,450 1198.7,452.5C1205.4,455 1212.6,457.5 1218.7,460.9C1224.9,464.2 1230.4,468.1 1235.4,472.6C1240.4,477 1244.9,482.3 1248.8,487.6C1252.7,492.9 1254.9,499.3 1258.8,504.3C1262.7,509.3 1266.6,513.5 1272.2,517.6C1277.7,521.8 1285.5,526.3 1292.2,529.3C1298.9,532.4 1305.7,534.5 1312.2,536C1318.7,537.5 1322.9,537.8 1331.3,538.3C1339.6,538.9 1355.6,634.5 1362.3,539.3C1369,444.2 1605,62.7 1371.6,-32.6C1138.2,-127.9 196.6,-32.6 -38.4,-32.6Z" fill="#0060ff" stroke="#0060ff" stroke-width="0.7"/>
<path d="M612.1,29.1C613.7,28 617.1,24.2 622.1,22.4C627.1,20.7 634.3,19.4 642.1,18.4C649.9,17.4 659.9,16.6 668.8,16.4C677.7,16.3 688,16.4 695.5,17.4C703,18.4 712.2,19.7 713.9,22.4C715.5,25.2 710.3,31.3 705.5,34.1C700.8,36.9 692.7,37.7 685.5,39.1C678.3,40.5 669.9,42.2 662.1,42.5C654.3,42.8 645.7,41.9 638.8,40.8C631.8,39.7 624.8,37.7 620.4,35.8C615.9,33.9 613.4,30.2 612.1,29.1Z" fill="#0020ff" stroke="#0020ff" stroke-width="0.7"/>
<path d="M171.6,-32.6C177.2,-27 193.5,-5.6 205.3,0.7C217,7.1 230.3,4.1 242,5.8C253.7,7.4 264.2,9.2 275.4,10.8C286.5,12.3 297.6,13.7 308.8,15.1C319.9,16.5 331,17.9 342.1,19.1C353.3,20.3 367.8,21.6 375.5,22.4C383.2,23.3 380.7,23.3 388.4,24.1C396.1,25 411.7,26.1 421.8,27.5C431.8,28.8 439.6,30.5 448.5,32.5C457.4,34.4 466.3,36.6 475.2,39.1C484.1,41.6 494.1,44.4 501.9,47.5C509.7,50.5 517.5,54.4 521.9,57.5C526.4,60.6 528.6,62.9 528.6,65.8C528.6,68.8 525.8,72.9 521.9,75.2C518,77.5 511.9,78.4 505.2,79.9C498.5,81.4 489.1,82.7 481.8,84.2C474.6,85.8 466.8,87.5 461.8,89.2C456.8,90.9 450.7,90.8 451.8,94.2C452.9,97.7 461.3,106.3 468.5,109.9C475.7,113.5 486.3,114.1 495.2,115.9C504.1,117.8 513,119.3 521.9,120.9C530.8,122.6 541.4,124 548.6,125.9C555.9,127.9 560.9,129.8 565.3,132.6C569.8,135.4 573.7,139.3 575.3,142.6C577,146 577,149 575.3,152.6C573.7,156.3 569.8,160.2 565.3,164.3C560.9,168.5 554.7,173 548.6,177.7C542.5,182.4 534.4,188 528.6,192.7C522.7,197.4 516.3,202.2 513.6,206.1C510.8,210 510.8,212.7 511.9,216.1C513,219.4 517.7,222.5 520.2,226.1C522.7,229.7 527,233.6 526.9,237.8C526.9,242 523,247.8 520,251.4C517,255 512.9,256.7 508.7,259.3C504.6,261.9 500.1,264.6 495.2,267.2C490.4,269.8 484.7,272.5 479.5,275.1C474.2,277.7 469,280.5 463.7,283C458.5,285.4 452.8,287.3 448,289.7C443.1,292.2 438.6,294.8 434.4,297.6C430.3,300.4 426.6,303.4 423.2,306.6C419.8,309.8 416.8,313.2 414.2,316.7C411.6,320.3 409.5,324.2 407.4,328C405.4,331.7 404,335.5 401.8,339.2C399.5,343 397.2,347.2 393.9,350.5C390.6,353.8 386,355.6 382.2,358.9C378.4,362.2 374.7,366.2 370.9,370.2C367.2,374.1 362.9,378.4 359.7,382.6C356.5,386.7 354,391.2 351.8,394.9C349.5,398.7 348.6,402.1 346.2,405.1C343.7,408.1 340.9,410.9 337.2,413C333.4,415 328.9,416.1 323.6,417.5C318.4,418.8 311.6,419.9 305.6,420.8C299.6,421.8 293.6,422.5 287.6,423.1C281.6,423.7 275.6,423.8 269.6,424.2C263.6,424.6 261.2,424.5 251.6,425.3C242,426.2 223,428 211.9,429.2C200.9,430.4 194.1,431.9 185.2,432.5C176.3,433.1 167.4,433.3 158.5,432.5C149.6,431.7 140.2,429.7 131.8,427.5C123.5,425.3 115.7,421.7 108.4,419.1C101.2,416.6 94.8,413.7 88.4,412.5C82,411.2 74.5,410.1 70.1,411.5C65.6,412.9 63.1,417 61.7,420.8C60.3,424.6 62,429.2 61.7,434.2C61.4,439.2 61.7,446.1 60,450.9C58.4,455.6 55.9,459.5 51.7,462.5C47.5,465.6 40.6,468.1 35,469.2C29.4,470.3 23.9,469.8 18.3,469.2C12.7,468.7 9.4,467.3 1.6,465.9C-6.2,464.5 -21.8,544 -28.4,460.9C-35.1,377.8 -36.7,49.6 -38.4,-32.6Z" fill="#00a0ff" stroke="#00a0ff" stroke-width="0.7"/>
<path d="M1221.6,-32.6C1218.3,-27 1211.4,-5.2 1202.1,0.7C1192.7,6.7 1178.1,2.1 1165.3,3.1C1152.5,4 1138.6,5 1125.3,6.4C1111.9,7.9 1096.9,9.8 1085.2,11.8C1073.5,13.8 1058.5,14.7 1055.2,18.4C1051.8,22.2 1059.1,30.1 1065.2,34.1C1071.3,38.1 1083,39.4 1091.9,42.5C1100.8,45.5 1110.8,48.9 1118.6,52.5C1126.4,56.1 1137.5,59.6 1138.6,64.2C1139.7,68.7 1131.9,76.5 1125.3,79.9C1118.6,83.2 1108,82.9 1098.6,84.2C1089.1,85.5 1078.5,86.3 1068.5,87.5C1058.5,88.8 1047.9,89.9 1038.5,91.9C1029,93.8 1019,96.3 1011.8,99.2C1004.5,102.1 998.8,105.1 995.1,109.2C991.3,113.4 989.6,119.3 989.1,124.3C988.5,129.3 989.9,134 991.7,139.3C993.6,144.6 997.6,150.1 1000.1,156C1002.6,161.8 1003.1,167.7 1006.7,174.3C1010.4,181 1016.5,189.7 1021.8,195.8C1027.1,201.9 1032.3,206.6 1038.5,210.8C1044.6,215 1051.8,217.8 1058.5,220.8C1065.2,223.9 1073,226.7 1078.5,229.2C1084.1,231.7 1089.4,233.1 1091.9,235.8C1094.4,238.6 1094.4,241.7 1093.5,245.9C1092.7,250 1089.7,255.6 1086.9,260.9C1084.1,266.2 1079.5,272 1076.9,277.6C1074.2,283.1 1072,289.3 1071.2,294.3C1070.3,299.3 1070.6,303.2 1071.8,307.6C1073.1,312.1 1075.2,316.5 1078.5,321C1081.9,325.4 1086.9,330.4 1091.9,334.3C1096.9,338.2 1102.5,341.3 1108.6,344.3C1114.7,347.4 1121.4,349.9 1128.6,352.7C1135.8,355.5 1143.6,358.4 1152,361C1160.3,363.7 1169.8,366.5 1178.7,368.7C1187.6,370.9 1196.5,372.6 1205.4,374.4C1214.3,376.2 1223.2,377.7 1232.1,379.4C1241,381.1 1249.9,382.8 1258.8,384.4C1267.7,386 1276.6,387.6 1285.5,389.1C1294.4,390.5 1304.6,392.1 1312.2,393.1C1319.8,394.1 1322.9,394.3 1331.3,395.1C1339.6,395.9 1355.6,396.5 1362.3,397.8C1369,399 1370,474.1 1371.6,402.4C1373.2,330.7 1371.6,39.9 1371.6,-32.6Z" fill="#00a0ff" stroke="#00a0ff" stroke-width="0.7"/>
<path d="M1332.9,432.5C1331.9,434.2 1326.9,439.5 1326.9,442.5C1326.9,445.6 1331.9,452.5 1332.9,450.9C1333.9,449.2 1332.9,435.6 1332.9,432.5Z" fill="#00a0ff" stroke="#00a0ff" stroke-width="0.7"/>
<path d="M-28.4,45.8C-23.4,45.5 -8.4,44.8 1.6,44.1C11.6,43.5 21.1,42.5 31.7,41.8C42.2,41.1 53.9,40.3 65,39.8C76.2,39.4 87.3,39.3 98.4,39.1C109.6,39 120.7,39 131.8,39.1C142.9,39.3 154.1,39.6 165.2,40.1C176.3,40.7 187.5,41.3 198.6,42.5C209.7,43.7 220.8,45.5 232,47.5C243.1,49.4 255.3,51.9 265.4,54.2C275.4,56.4 284.3,58.3 292.1,60.8C299.9,63.3 306.5,66.1 312.1,69.2C317.7,72.2 320.5,76.1 325.5,79.2C330.4,82.3 334.5,84.8 341.6,87.5C348.8,90.3 359.4,92.8 368.3,95.9C377.2,99 386.1,102.6 395,105.9C403.9,109.2 412.9,112.6 421.8,115.9C430.7,119.3 440.1,122.6 448.5,125.9C456.8,129.3 464,132.3 471.8,136C479.6,139.6 489.2,143.7 495.2,147.6C501.2,151.5 506.5,155.4 507.9,159.3C509.3,163.2 506.8,167.4 503.5,171C500.3,174.6 494.4,177.7 488.5,181C482.7,184.4 474.6,188 468.5,191C462.4,194.1 455.7,196.3 451.8,199.4C447.9,202.4 445.4,205.5 445.1,209.4C444.8,213.3 447.4,218.3 450.1,222.8C452.9,227.2 458.6,231.7 461.8,236.1C465,240.5 468.6,245.1 469.3,249.2C470,253.2 468,256.9 466,260.4C463.9,264 460.3,267.4 457,270.6C453.6,273.8 449.8,276.8 445.7,279.6C441.6,282.4 436.7,284.6 432.2,287.5C427.7,290.3 422.8,293.5 418.7,296.5C414.6,299.5 410.8,302.3 407.4,305.5C404,308.7 400.9,312.2 398.4,315.6C396,319 394.5,322.2 392.8,325.7C391.1,329.3 390.2,333.4 388.3,337C386.4,340.6 384.8,345 381.5,347.1C378.3,349.3 372.7,347.8 368.7,349.9C364.7,352.1 361.2,356.5 357.4,360C353.7,363.6 349.9,367.4 346.2,371.3C342.4,375.2 337.9,379.9 334.9,383.7C331.9,387.4 330.8,390.8 328.2,393.8C325.5,396.8 322.9,399.6 319.1,401.7C315.4,403.8 310.9,404.8 305.6,406.2C300.4,407.6 293.6,409.2 287.6,410.3C281.6,411.3 275.6,411.9 269.6,412.5C263.6,413.1 259,413.1 251.6,413.6C244.2,414.2 235.2,414.9 225.3,415.8C215.3,416.7 201.9,418.6 191.9,419.1C181.9,419.7 175.2,420.3 165.2,419.1C155.2,418 141.8,415.3 131.8,412.5C121.8,409.7 114,406.1 105.1,402.5C96.2,398.8 87.3,393.8 78.4,390.8C69.5,387.7 60.6,385.7 51.7,384.1C42.8,382.5 33.3,382.1 25,381.4C16.6,380.8 10.5,380.4 1.6,380.1C-7.3,379.8 -23.4,379.5 -28.4,379.4Z" fill="#00e0fb" stroke="#00e0fb" stroke-width="0.7"/>
<path d="M1362.3,42.5C1357.1,43.6 1339,47.2 1331.3,49.2C1323.5,51.1 1320.4,51.7 1315.6,54.2C1310.7,56.7 1305.5,60 1302.2,64.2C1298.9,68.4 1296.6,73.9 1295.5,79.2C1294.4,84.5 1296.1,90.3 1295.5,95.9C1295,101.5 1294.4,107.6 1292.2,112.6C1290,117.6 1286.6,122.3 1282.2,125.9C1277.7,129.6 1271.6,132.3 1265.5,134.3C1259.4,136.2 1252.7,137.1 1245.5,137.6C1238.2,138.2 1229.9,138.2 1222.1,137.6C1214.3,137.1 1206.5,135.7 1198.7,134.3C1190.9,132.9 1183.1,130.9 1175.3,129.3C1167.6,127.6 1159.8,125.7 1152,124.3C1144.2,122.9 1136.4,121.5 1128.6,120.9C1120.8,120.4 1113,120.1 1105.2,120.9C1097.4,121.8 1088.3,123.4 1081.9,125.9C1075.5,128.4 1070.3,131.5 1066.8,136C1063.4,140.4 1062.1,147.1 1061.2,152.6C1060.2,158.2 1059.4,163.3 1061.2,169.3C1062.9,175.4 1067.3,184.5 1071.8,189.1C1076.4,193.7 1082.4,194.6 1088.5,196.8C1094.7,199 1101.9,200.7 1108.6,202.5C1115.2,204.2 1123,205.5 1128.6,207.5C1134.2,209.4 1138.9,211.4 1142,214.1C1145,216.9 1147,220.5 1147,224.2C1147,227.8 1145,231.7 1142,235.8C1138.9,240 1133.1,244.7 1128.6,249.2C1124.2,253.6 1119.4,257.8 1115.2,262.5C1111.1,267.3 1106.6,272.6 1103.6,277.6C1100.5,282.6 1098,288.1 1096.9,292.6C1095.8,297 1095.5,300.1 1096.9,304.3C1098.3,308.5 1101.6,313.5 1105.2,317.6C1108.9,321.8 1113,325.7 1118.6,329.3C1124.2,332.9 1130.8,336 1138.6,339.3C1146.4,342.7 1155.9,346.2 1165.3,349.3C1174.8,352.5 1185.4,355.7 1195.4,358.4C1205.4,361 1215.4,363 1225.4,365C1235.4,367 1245.5,368.8 1255.5,370.4C1265.5,371.9 1276.1,373.2 1285.5,374.4C1295,375.6 1304.6,376.7 1312.2,377.7C1319.8,378.7 1322.9,379.6 1331.3,380.4C1339.6,381.2 1357.1,382.3 1362.3,382.7Z" fill="#00e0fb" stroke="#00e0fb" stroke-width="0.7"/>
<path d="M79.1,130.9C80.6,129.3 83.5,123.4 88.4,120.9C93.3,118.4 100.7,116.9 108.4,115.9C116.2,115 125.7,115 135.2,115.3C144.6,115.5 155.7,116.1 165.2,117.6C174.7,119.1 183.6,121.2 191.9,124.3C200.3,127.3 208.6,131.8 215.3,136C222,140.1 228.1,144.9 232,149.3C235.9,153.8 242.5,159.2 238.6,162.7C234.8,166.1 218.6,168.6 208.6,170C198.6,171.4 188.6,170.8 178.6,171C168.5,171.2 157.4,171.8 148.5,171C139.6,170.2 132.4,168.5 125.1,166C117.9,163.5 111,159.6 105.1,156C99.3,152.4 94.4,148.5 90.1,144.3C85.7,140.1 80.9,133.2 79.1,130.9Z" fill="#00a0ff" stroke="#00a0ff" stroke-width="0.7"/>
<path d="M-28.4,179.4C-23.4,179.4 -7.3,179.2 1.6,179.4C10.5,179.5 15.5,178.6 25,180C34.4,181.4 47.2,185 58.4,187.7C69.5,190.4 80.6,194 91.8,196C102.9,198.1 114,199.4 125.1,200.1C136.3,200.7 147.4,200.2 158.5,200.1C169.7,199.9 180.8,199.2 191.9,199.4C203,199.6 216.4,200.4 225.3,201.1C234.2,201.7 238.6,203.4 245.3,203.4C252,203.4 257.6,201.8 265.4,201.1C273.1,200.3 283.2,199 292.1,198.7C301,198.4 311,198.4 318.8,199.4C326.6,200.3 330.4,201.7 338.8,204.4C347.2,207.1 360.3,212.8 369.1,215.4C378,218 384.9,218.2 391.7,219.9C398.4,221.6 404,223.3 409.7,225.5C415.3,227.8 420.9,230.6 425.4,233.4C429.9,236.2 434.3,239.4 436.7,242.4C439.1,245.4 440.1,248.2 440.1,251.4C440.1,254.6 438.8,258.2 436.7,261.6C434.6,264.9 431.1,268.3 427.7,271.7C424.3,275.1 420.6,278.5 416.4,281.8C412.3,285.2 407,288.8 402.9,292C398.8,295.2 394.7,298 391.7,301C388.7,304 387,306.6 384.9,310C382.8,313.4 381.2,317.5 379.3,321.2C377.4,325 375.9,328.7 373.6,332.5C371.4,336.2 372.6,338.4 365.8,343.8C358.9,349.1 340.4,359.2 332.7,364.6C324.9,369.9 323.6,372.2 319.1,375.8C314.6,379.4 310.9,382.9 305.6,385.9C300.4,388.9 293.6,391.8 287.6,393.8C281.6,395.9 275.6,397.2 269.6,398.3C263.6,399.4 259,399.5 251.6,400.6C244.2,401.7 235.2,403.6 225.3,404.8C215.3,405.9 201.9,407.1 191.9,407.5C181.9,407.8 174.7,408.2 165.2,406.8C155.7,405.4 144.1,402.1 135.2,399.1C126.3,396.2 119.6,392.7 111.8,389.1C104,385.5 96.2,380.6 88.4,377.4C80.6,374.2 72.3,371.7 65,370.1C57.8,368.4 53.9,367.2 45,367.4C36.1,367.6 18.9,370.6 11.6,371C4.4,371.5 8.3,370.6 1.6,370.4C-5.1,370.2 -23.4,369.8 -28.4,369.7Z" fill="#30ffc7" stroke="#30ffc7" stroke-width="0.7"/>
<path d="M1362.3,177.7C1357.1,178.2 1339.6,179.6 1331.3,181C1322.9,182.4 1318.7,184.6 1312.2,186C1305.7,187.4 1298.9,188.8 1292.2,189.4C1285.5,189.9 1278.8,190.2 1272.2,189.4C1265.5,188.5 1258.8,186.3 1252.1,184.4C1245.5,182.4 1238.8,179.4 1232.1,177.7C1225.4,176 1217.1,174.1 1212.1,174.3C1207.1,174.6 1203.2,176.1 1202.1,179.4C1200.9,182.6 1204.7,188.9 1205.4,194.1C1206.1,199.3 1206.1,206.1 1206.1,210.8C1206.1,215.5 1207.2,218.9 1205.4,222.5C1203.6,226.1 1199.8,229.2 1195.4,232.5C1190.9,235.8 1184.8,239.2 1178.7,242.5C1172.6,245.9 1164.8,249.2 1158.6,252.5C1152.5,255.9 1146.7,258.7 1142,262.5C1137.2,266.4 1133.3,271.2 1130.3,275.9C1127.2,280.6 1124.4,286.2 1123.6,290.9C1122.8,295.7 1123.3,300.1 1125.3,304.3C1127.2,308.5 1130.8,312.3 1135.3,316C1139.7,319.6 1145.3,322.6 1152,326C1158.6,329.3 1167,332.8 1175.3,336C1183.7,339.2 1193.1,342.2 1202.1,345C1211,347.8 1219.9,350.4 1228.8,352.7C1237.7,355 1246.6,357 1255.5,358.7C1264.4,360.4 1273.3,361.6 1282.2,362.7C1291.1,363.8 1300.7,364.4 1308.9,365C1317.1,365.7 1322.3,366.3 1331.3,366.7C1340.2,367.2 1357.1,367.5 1362.3,367.7Z" fill="#30ffc7" stroke="#30ffc7" stroke-width="0.7"/>
<path d="M315.4,136.6C317.1,135.5 321.1,131.4 325.5,129.9C329.8,128.4 334.5,127.7 341.6,127.6C348.8,127.5 359.4,128.2 368.3,129.3C377.2,130.4 386.1,132.1 395,134.3C403.9,136.5 413.4,139.6 421.8,142.6C430.1,145.7 439,149.6 445.1,152.6C451.2,155.7 459.6,157 458.5,161C457.4,165 445.1,173.3 438.4,176.7C431.8,180 425.1,180.6 418.4,181C411.7,181.5 405.1,180.5 398.4,179.4C391.7,178.2 385,176.6 378.4,174.3C371.7,172.1 365,169.1 358.3,166C351.6,162.9 344.4,159 338.3,156C332.2,152.9 325.4,150.9 321.6,147.6C317.8,144.4 316.5,138.5 315.4,136.6Z" fill="#30ffc7" stroke="#30ffc7" stroke-width="0.7"/>
<path d="M-28.4,202.8C-23.4,202.9 -8.4,203.1 1.6,203.5C11.6,203.8 21.1,203.7 31.7,204.8C42.2,205.9 53.9,208.3 65,210.1C76.2,212 87.3,214.5 98.4,215.8C109.6,217.1 120.7,217.8 131.8,218.1C142.9,218.5 154.1,218.1 165.2,218.1C176.3,218.1 187.5,218 198.6,218.1C209.7,218.3 222,219.3 232,219.1C242,219 249.8,218 258.7,217.5C267.6,216.9 276.5,215.8 285.4,215.8C294.3,215.8 304.5,215.7 312.1,217.5C319.7,219.3 325.1,224.2 330.9,226.7C336.6,229.1 341.4,230.6 346.6,232.3C351.9,234 357.1,235.5 362.4,236.8C367.6,238.1 373.3,239.2 378.2,240.2C383,241.1 387.5,241.5 391.7,242.4C395.8,243.4 400.5,243.2 402.9,245.8C405.4,248.4 406.7,254.6 406.3,258.2C405.9,261.8 402.7,264.4 400.7,267.2C398.6,270 396.2,272.5 393.9,275.1C391.7,277.7 389.6,280.1 387.2,283C384.7,285.8 381.9,288.2 379.3,292C376.7,295.7 373.5,301.7 371.4,305.5C369.3,309.2 368.8,311.1 366.9,314.5C365,317.9 362.8,322 360.1,325.7C357.5,329.5 357.6,333 351.1,337C344.7,341 329,346.1 321.4,349.9C313.8,353.8 311.3,356.7 305.6,360C300,363.4 293.6,367.2 287.6,370.2C281.6,373.2 275.6,375.8 269.6,378.1C263.6,380.3 260.1,381.3 251.6,383.7C243.1,386.1 228.6,390.6 218.6,392.4C208.7,394.3 200.8,394.6 191.9,394.8C183,394.9 174.1,394.9 165.2,393.4C156.3,391.9 146.3,388.7 138.5,385.8C130.7,382.8 125.1,378.8 118.5,375.7C111.8,372.7 107.3,369.3 98.4,367.4C89.5,365.5 75.1,365.7 65,364.4C55,363 47.2,360.6 38.3,359.4C29.4,358.1 17.8,357.6 11.6,357C5.5,356.5 8.3,356.3 1.6,356C-5.1,355.7 -23.4,355.5 -28.4,355.4Z" fill="#63ff94" stroke="#63ff94" stroke-width="0.7"/>
<path d="M1362.3,192.7C1357.1,194.9 1339.6,202.2 1331.3,206.1C1322.9,210 1318.7,212.7 1312.2,216.1C1305.7,219.4 1298.9,223 1292.2,226.1C1285.5,229.2 1278.8,231.9 1272.2,234.4C1265.5,236.9 1258.8,239.2 1252.1,241.1C1245.5,243.1 1238.8,244.2 1232.1,246.1C1225.4,248.1 1218.7,250.6 1212.1,252.8C1205.4,255 1198.7,257 1192,259.5C1185.4,262 1178.1,264.8 1172,267.8C1165.9,270.9 1159.8,274.3 1155.3,277.8C1150.9,281.4 1148.1,286.1 1145.3,289.3C1142.5,292.4 1137.5,293.3 1138.6,296.9C1139.7,300.6 1146.4,306.9 1152,311C1157.5,315 1164.8,317.9 1172,321C1179.2,324 1187,326.5 1195.4,329.3C1203.7,332.1 1213.2,335 1222.1,337.7C1231,340.3 1239.9,343 1248.8,345C1257.7,347 1266.6,348.4 1275.5,349.7C1284.4,351 1292.9,351.9 1302.2,352.7C1311.5,353.5 1321.2,353.9 1331.3,354.4C1341.3,354.8 1357.1,355.2 1362.3,355.4Z" fill="#63ff94" stroke="#63ff94" stroke-width="0.7"/>
<path d="M-28.4,229.2C-23.4,229.2 -8.4,229.2 1.6,229.2C11.6,229.2 21.1,229 31.7,229.2C42.2,229.3 53.9,229.9 65,230.2C76.2,230.4 87.3,230.7 98.4,230.8C109.6,230.9 120.7,230.7 131.8,230.8C142.9,230.9 154.1,231.2 165.2,231.5C176.3,231.8 187.5,232.1 198.6,232.5C209.7,232.9 222,233.4 232,234.2C242,234.9 250.3,235.4 258.7,236.8C267,238.2 274.8,239.9 282.1,242.5C289.3,245.1 297.9,249.2 302.1,252.5C306.3,255.9 305.6,258 307.2,262.7C308.8,267.4 309.7,275.1 311.7,280.7C313.8,286.3 317,292 319.6,296.5C322.2,301 326.7,303.8 327.5,307.7C328.2,311.7 326.2,316.9 324.1,320.1C322.1,323.3 318.9,324.8 315.1,326.9C311.4,328.9 306.6,330.7 301.6,332.5C296.6,334.3 292,334.9 285.4,337.7C278.8,340.5 269.8,345.6 262,349.3C254.2,353.1 247,356.7 238.6,360.4C230.3,364 220.8,368.2 211.9,371C203,373.9 193,376.3 185.2,377.7C177.4,379.1 172.4,379.8 165.2,379.4C158,379 149.6,377.6 141.8,375.1C134,372.6 126.3,367.8 118.5,364.4C110.7,360.9 102.9,357.1 95.1,354.4C87.3,351.6 80.1,349.5 71.7,347.7C63.4,345.9 53.9,344.7 45,343.7C36.1,342.7 25.5,342.1 18.3,341.7C11.1,341.2 9.4,341.1 1.6,341C-6.2,340.9 -23.4,341 -28.4,341Z" fill="#97ff60" stroke="#97ff60" stroke-width="0.7"/>
<path d="M1362.3,234.2C1357.1,236.7 1337.9,245 1331.3,249.2C1324.6,253.4 1326,256.4 1322.2,259.2C1318.5,262 1315,264.5 1308.9,265.9C1302.8,267.3 1293.9,267.3 1285.5,267.6C1277.2,267.8 1267.7,266.9 1258.8,267.6C1249.9,268.2 1239.9,270 1232.1,271.6C1224.3,273.1 1218.2,274.8 1212.1,276.9C1205.9,279 1200.4,281.8 1195.4,284.2C1190.4,286.7 1183.7,288.8 1182,291.6C1180.3,294.4 1182,298 1185.4,300.9C1188.7,303.9 1195.4,306.5 1202.1,309.3C1208.7,312.1 1217.6,314.9 1225.4,317.6C1233.2,320.4 1241,323.5 1248.8,326C1256.6,328.5 1264.4,330.7 1272.2,332.7C1279.9,334.6 1288.3,336.3 1295.5,337.7C1302.8,339.1 1309.6,340.3 1315.6,341C1321.5,341.7 1323.5,341.7 1331.3,342C1339,342.3 1357.1,342.6 1362.3,342.7Z" fill="#97ff60" stroke="#97ff60" stroke-width="0.7"/>
<path d="M-28.4,307.6C-23.4,307.3 -5.1,307.6 1.6,305.9C8.3,304.3 8.3,301.2 11.6,297.6C15,294 18.3,289.3 21.6,284.2C25,279.2 27.2,272.3 31.7,267.6C36.1,262.8 41.1,259.2 48.4,255.9C55.6,252.5 65.6,249.7 75.1,247.5C84.5,245.3 94.5,243.7 105.1,242.5C115.7,241.3 127.4,240.5 138.5,240.2C149.6,239.9 160.8,240.1 171.9,240.8C183,241.6 195.2,243.2 205.3,244.9C215.3,246.5 223.6,248.2 232,250.9C240.3,253.5 248.9,257.3 255.3,260.9C261.7,264.5 266.9,268.4 270.4,272.6C273.8,276.7 275.5,281.5 276,285.9C276.6,290.4 275.8,295.1 273.7,299.3C271.6,303.4 267.9,307.3 263.7,311C259.5,314.6 255.1,317.6 248.7,321C242.3,324.3 233.6,327.6 225.3,331C216.9,334.3 207.5,337.9 198.6,341C189.7,344.1 179.7,347.4 171.9,349.3C164.1,351.3 158.5,353 151.8,352.7C145.2,352.4 139.1,350.2 131.8,347.7C124.6,345.2 116.8,340.7 108.4,337.7C100.1,334.6 91.2,331.7 81.7,329.3C72.3,327 61.2,325 51.7,323.6C42.2,322.3 33.3,321.7 25,321C16.6,320.2 10.5,319.7 1.6,319.3C-7.3,318.9 -23.4,318.7 -28.4,318.6Z" fill="#caff2c" stroke="#caff2c" stroke-width="0.7"/>
<path d="M73.4,282.6C74.2,280.6 75.3,274.5 78.4,270.9C81.5,267.3 86.2,263.5 91.8,260.9C97.3,258.2 104,256.3 111.8,254.9C119.6,253.5 129.6,252.9 138.5,252.5C147.4,252.1 156.3,252.1 165.2,252.5C174.1,252.9 183.6,253.4 191.9,254.9C200.3,256.4 208.6,258.9 215.3,261.5C222,264.2 227.5,267.4 232,270.9C236.4,274.4 240.2,279 242,282.6C243.8,286.2 244.3,289.3 242.7,292.6C241,295.9 237.1,299.5 232,302.6C226.9,305.7 219.7,308.6 211.9,311C204.2,313.3 194.1,315.4 185.2,317C176.3,318.5 167.4,319.9 158.5,320.3C149.6,320.7 140.7,320.7 131.8,319.3C122.9,317.9 112.9,314.7 105.1,311.6C97.3,308.6 90.4,305.8 85.1,300.9C79.8,296.1 75.3,285.6 73.4,282.6Z" fill="#feed00" stroke="#feed00" stroke-width="0.7"/>
<path d="M123.5,282.6C124.9,281.3 127.6,276.8 131.8,274.9C136,273 142.4,271.6 148.5,270.9C154.6,270.2 162.4,270.2 168.5,270.9C174.7,271.6 181.3,273 185.2,274.9C189.1,276.8 191.6,280 191.9,282.6C192.2,285.1 190.8,288.3 186.9,290.3C183,292.2 174.9,293.5 168.5,294.3C162.1,295 154.9,295.5 148.5,294.9C142.1,294.4 134.3,293 130.1,290.9C126,288.9 124.6,284 123.5,282.6Z" fill="#ffb200" stroke="#ffb200" stroke-width="0.7"/>
<use href="#coast"/>
</g>
<rect x="0" y="0" width="1331.2" height="655.7" fill="none" stroke="#000" stroke-width="3.33"/>
<text transform="translate(52.66,-24.60) scale(1.1200,1)" font-size="51" xml:space="preserve">Ionosphere  (h=450.0 km), 2011-07-09 00:00 UT</text>
<rect x="0" y="699" width="1331.2" height="66" fill="#0000a4"/>
<rect x="83.2" y="699" width="1248" height="66" fill="#0000ed"/>
<rect x="166.4" y="699" width="1164.8" height="66" fill="#0020ff"/>
<rect x="249.6" y="699" width="1081.6" height="66" fill="#0060ff"/>
<rect x="332.8" y="699" width="998.4" height="66" fill="#00a0ff"/>
<rect x="416" y="699" width="915.2" height="66" fill="#00e0fb"/>
<rect x="499.2" y="699" width="832" height="66" fill="#30ffc7"/>
<rect x="582.4" y="699" width="748.8" height="66" fill="#63ff94"/>
<rect x="665.6" y="699" width="665.6" height="66" fill="#97ff60"/>
<rect x="748.8" y="699" width="582.4" height="66" fill="#caff2c"/>
<rect x="832" y="699" width="499.2" height="66" fill="#feed00"/>
<rect x="915.2" y="699" width="416" height="66" fill="#ffb200"/>
<rect x="998.4" y="699" width="332.8" height="66" fill="#ff7700"/>
<rect x="1081.6" y="699" width="249.6" height="66" fill="#ff3b00"/>
<rect x="1164.8" y="699" width="166.4" height="66" fill="#e80000"/>
<rect x="1248" y="699" width="83.2" height="66" fill="#9f0000"/>
<rect x="0" y="699" width="1331.2" height="66" fill="none" stroke="#000" stroke-width="3.33"/>
<line x1="0" y1="765" x2="0" y2="779.6" stroke="#000" stroke-width="3.33"/>
<text transform="translate(-11.84,826.30) scale(0.9830,1)" font-size="43.6" xml:space="preserve">0</text>
<line x1="166.4" y1="765" x2="166.4" y2="779.6" stroke="#000" stroke-width="3.33"/>
<text transform="translate(154.71,826.30) scale(0.9413,1)" font-size="43.6" xml:space="preserve">5</text>
<line x1="332.8" y1="765" x2="332.8" y2="779.6" stroke="#000" stroke-width="3.33"/>
<text transform="translate(307.72,826.30) scale(1.0418,1)" font-size="43.6" xml:space="preserve">10</text>
<line x1="499.2" y1="765" x2="499.2" y2="779.6" stroke="#000" stroke-width="3.33"/>
<text transform="translate(474.18,826.30) scale(1.0212,1)" font-size="43.6" xml:space="preserve">15</text>
<line x1="665.6" y1="765" x2="665.6" y2="779.6" stroke="#000" stroke-width="3.33"/>
<text transform="translate(639.95,826.30) scale(1.0550,1)" font-size="43.6" xml:space="preserve">20</text>
<line x1="832" y1="765" x2="832" y2="779.6" stroke="#000" stroke-width="3.33"/>
<text transform="translate(806.39,826.30) scale(1.0349,1)" font-size="43.6" xml:space="preserve">25</text>
<line x1="998.4" y1="765" x2="998.4" y2="779.6" stroke="#000" stroke-width="3.33"/>
<text transform="translate(973.70,826.30) scale(1.0326,1)" font-size="43.6" xml:space="preserve">30</text>
<line x1="1164.8" y1="765" x2="1164.8" y2="779.6" stroke="#000" stroke-width="3.33"/>
<text transform="translate(1140.13,826.30) scale(1.0129,1)" font-size="43.6" xml:space="preserve">35</text>
<line x1="1331.2" y1="765" x2="1331.2" y2="779.6" stroke="#000" stroke-width="3.33"/>
<text transform="translate(1305.79,826.30) scale(1.0489,1)" font-size="43.6" xml:space="preserve">40</text>
</g>
<g transform="translate(78.4,2102.6)">
<g clip-path="url(#mc)">
<rect x="-2" y="-2" width="1335.2" height="659.7" fill="#0000df"/>
<path d="M-48.4,182.4C-40.1,182.4 -13.4,183.1 1.6,182.4C16.6,181.7 26.6,179.9 41.6,178.4C56.6,176.9 77.4,173.7 91.6,173.4C105.8,173.1 114.9,174.1 126.6,176.4C138.3,178.7 150.8,183.7 161.6,187.4C172.4,191.1 181.6,194.8 191.6,198.4C201.6,202 213.3,206.5 221.6,209.2C229.9,212 235,213.5 241.6,214.9C248.3,216.3 253.9,217.1 261.7,217.6C269.5,218 278.4,218 288.4,217.6C298.4,217.1 310.6,216 321.8,214.9C332.9,213.8 344,212.1 355.1,210.9C366.3,209.7 377.4,208.6 388.5,207.6C399.7,206.6 410.8,205.7 421.9,204.9C433,204.1 444.2,203.5 455.3,202.6C466.4,201.6 477.6,200.3 488.7,199.2C499.8,198.1 510.9,197.3 522.1,195.9C533.2,194.5 544.3,192.9 555.5,190.9C566.6,188.8 577.7,186.2 588.8,183.5C600,180.9 611.8,177.4 622.2,174.9C632.7,172.3 640.5,169.5 651.6,168.2C662.7,166.8 676.8,166.8 688.5,166.8C700.2,166.8 711.9,167.8 721.9,168.2C731.9,168.6 739.7,169.6 748.6,169.2C757.5,168.8 766.4,167.2 775.3,165.8C784.2,164.4 793.1,162.3 802,160.8C810.9,159.3 819.8,157.9 828.7,156.8C837.6,155.7 845.4,155 855.5,154.2C865.5,153.3 877.7,152.4 888.8,151.8C900,151.3 910.1,150.7 922.2,150.8C934.4,150.9 945.1,151.9 961.7,152.5C978.3,153 1002.3,153.9 1021.8,154.2C1041.2,154.4 1060.7,154.3 1078.5,154.2C1096.3,154 1114.7,154 1128.6,153.5C1142.5,152.9 1150.9,152.1 1162,150.8C1173.1,149.5 1184.2,147.2 1195.4,145.8C1206.5,144.4 1218.7,142.7 1228.8,142.5C1238.8,142.2 1247.1,142.5 1255.5,144.1C1263.8,145.8 1270.5,148.9 1278.8,152.5C1287.2,156.1 1296.9,161.8 1305.5,165.8C1314.2,169.9 1322.2,173.5 1330.6,176.9C1338.9,180.2 1347.1,184.4 1355.6,185.9C1364.1,187.4 1377.3,185.9 1381.6,185.9L1381.6,407.4C1377.6,407.4 1366,406.2 1357.6,407.4C1349.2,408.7 1339.4,412.6 1331.1,414.9C1322.8,417.2 1316.5,418.9 1307.6,421.4C1298.7,423.9 1287.6,427.9 1277.6,429.9C1267.6,431.9 1257.6,433.4 1247.6,433.4C1237.6,433.4 1227.6,431.1 1217.6,429.9C1207.6,428.7 1197.6,426.8 1187.6,426.4C1177.6,426 1167.6,426.4 1157.6,427.4C1147.6,428.4 1137.6,430.3 1127.6,432.4C1117.6,434.5 1109.3,437.8 1097.6,439.9C1085.9,442 1070.9,444.1 1057.6,444.9C1044.3,445.7 1030.9,445.2 1017.6,444.9C1004.3,444.7 990.9,443.4 977.6,443.4C964.3,443.4 950.9,443.8 937.6,444.9C924.3,446 912.6,447.4 897.6,449.9C882.6,452.4 864.3,456.3 847.6,459.9C830.9,463.5 814.3,466.8 797.6,471.4C780.9,476 764.3,481.8 747.6,487.4C730.9,493 716.3,499.9 697.6,504.9C678.9,509.9 653.3,514.9 635.6,517.4C617.9,519.9 607.3,519.1 591.6,519.9C575.9,520.7 558.3,521.2 541.6,522.4C524.9,523.7 508.3,524.9 491.6,527.4C474.9,529.9 458.3,534.1 441.6,537.4C424.9,540.7 408.3,545.3 391.6,547.4C374.9,549.5 358.3,550.7 341.6,549.9C324.9,549.1 308.3,547 291.6,542.4C274.9,537.8 258.3,530.3 241.6,522.4C224.9,514.5 208.3,504.1 191.6,494.9C174.9,485.7 158.3,476.6 141.6,467.4C124.9,458.2 108.3,448.7 91.6,439.9C74.9,431.2 56.6,419.9 41.6,414.9C26.6,409.9 16.6,410.7 1.6,409.9C-13.4,409.1 -40.1,409.9 -48.4,409.9Z" fill="#0080ff" stroke="#0080ff" stroke-width="0.7"/>
<path d="M-48.4,223.9C-40.1,223.9 -13.4,224.3 1.6,223.9C16.6,223.5 26.6,222.5 41.6,221.4C56.6,220.3 77.4,217.4 91.6,217.4C105.8,217.4 114.9,218.7 126.6,221.4C138.3,224.1 150.8,229.2 161.6,233.4C172.4,237.6 181.6,241.9 191.6,246.4C201.6,250.9 213.3,257.4 221.6,260.3C229.9,263.2 235,262.8 241.6,263.7C248.3,264.5 253.9,265.2 261.7,265.3C269.5,265.4 279.5,264.9 288.4,264.3C297.3,263.7 306.2,262.9 315.1,261.7C324,260.4 332.9,258.7 341.8,257C350.7,255.3 359.6,253.3 368.5,251.6C377.4,250 386.3,248.3 395.2,247C404.1,245.6 411.9,244.7 421.9,243.6C431.9,242.5 444.2,241.4 455.3,240.3C466.4,239.2 477.6,238 488.7,236.9C499.8,235.9 510.9,235.4 522.1,234.3C533.2,233.2 544.3,232.2 555.5,230.3C566.6,228.3 577.7,225.5 588.8,222.6C600,219.6 611.8,215.4 622.2,212.6C632.7,209.8 641.7,206.5 651.6,205.9C661.5,205.3 672.4,208 681.8,209.2C691.3,210.5 700.8,212.5 708.6,213.6C716.3,214.7 720.8,216.1 728.6,215.9C736.4,215.8 746.4,214.2 755.3,212.6C764.2,210.9 773.1,208.4 782,205.9C790.9,203.4 799.8,200.3 808.7,197.6C817.6,194.8 826.5,191.4 835.4,189.2C844.3,187 853.2,185.3 862.1,184.2C871,183.1 878.8,182.8 888.8,182.5C898.9,182.3 907.3,182.3 922.2,182.5C937.1,182.8 957.9,183.8 978.4,184.2C998.9,184.6 1022.9,184.8 1045.1,184.9C1067.4,185 1092.4,184.7 1111.9,184.9C1131.4,185 1145.3,185.7 1162,185.9C1178.7,186 1198.2,185 1212.1,185.9C1226,186.7 1235.4,188.7 1245.5,190.9C1255.5,193.1 1263.3,195.9 1272.2,199.2C1281.1,202.6 1289.1,207.2 1298.9,210.9C1308.6,214.6 1321.1,218.5 1330.6,221.6C1340,224.7 1347.1,228 1355.6,229.3C1364.1,230.6 1377.3,229.3 1381.6,229.3L1381.6,364.9C1377.6,364.9 1366,364.1 1357.6,364.9C1349.2,365.7 1342.8,367.7 1331.1,369.9C1319.4,372.2 1299.8,377 1287.6,378.4C1275.3,379.8 1267.6,379 1257.6,378.4C1247.6,377.8 1237.6,375.7 1227.6,374.9C1217.6,374.1 1207.6,373 1197.6,373.4C1187.6,373.8 1177.6,375.1 1167.6,377.4C1157.6,379.7 1147.6,383.7 1137.6,387.4C1127.6,391.2 1117.6,396.4 1107.6,399.9C1097.6,403.4 1089.3,406.3 1077.6,408.4C1065.9,410.5 1050.9,411.9 1037.6,412.4C1024.3,412.9 1010.9,412.2 997.6,411.4C984.3,410.6 970.9,408.5 957.6,407.4C944.3,406.3 930.9,404.9 917.6,404.9C904.3,404.9 890.9,405.7 877.6,407.4C864.3,409.1 850.9,411.2 837.6,414.9C824.3,418.7 812.6,423.7 797.6,429.9C782.6,436.2 764.3,446.2 747.6,452.4C730.9,458.7 716.3,463.7 697.6,467.4C678.9,471.2 653.3,473.2 635.6,474.9C617.9,476.6 607.3,476.6 591.6,477.4C575.9,478.2 558.3,478.7 541.6,479.9C524.9,481.2 508.3,482.8 491.6,484.9C474.9,487 458.3,490.5 441.6,492.4C424.9,494.3 408.3,496.2 391.6,496.4C374.9,496.6 358.3,496.2 341.6,493.4C324.9,490.7 308.3,485.9 291.6,479.9C274.9,473.9 258.3,465.3 241.6,457.4C224.9,449.5 208.3,440.3 191.6,432.4C174.9,424.5 158.3,417 141.6,409.9C124.9,402.8 108.3,395.7 91.6,389.9C74.9,384.1 56.6,378.1 41.6,374.9C26.6,371.7 16.6,371.6 1.6,370.9C-13.4,370.2 -40.1,370.9 -48.4,370.9Z" fill="#36ffc1" stroke="#36ffc1" stroke-width="0.7"/>
<path d="M-48.4,258.4C-40.1,258.4 -13.4,257.9 1.6,258.4C16.6,258.9 29.9,259.5 41.6,261.4C53.3,263.3 61.6,266 71.6,269.9C81.6,273.8 91.6,280.3 101.6,284.9C111.6,289.5 121.6,294.1 131.6,297.4C141.6,300.7 151.6,302.8 161.6,304.9C171.6,307 181.6,308.9 191.6,309.9C201.6,310.9 212.1,311.1 221.6,311.1C231.1,311 239.4,310.1 248.3,309.4C257.2,308.7 266.1,308.2 275,307.1C283.9,305.9 292.8,304.4 301.7,302.7C310.6,301 319.5,299.4 328.4,297C337.3,294.7 348.5,290.6 355.1,288.4C361.8,286.1 362.9,285.5 368.5,283.7C374.1,281.9 381.8,279.5 388.5,277.7C395.2,275.8 400.8,274.2 408.6,272.7C416.3,271.1 426.4,269.4 435.3,268.3C444.2,267.2 453.1,266.4 462,266C470.9,265.6 479.8,265.8 488.7,266C497.6,266.2 506.5,266.7 515.4,267C524.3,267.3 533.2,268.1 542.1,267.7C551,267.2 561,265.7 568.8,264.3C576.6,262.9 582.2,261.4 588.8,259.3C595.5,257.2 602.2,254 608.9,251.6C615.5,249.2 621.8,246.7 628.9,245C636,243.2 643.9,241 651.6,241C659.3,241 666.8,243 675.2,245C683.6,246.9 693,250.2 701.9,252.6C710.8,255 720.8,257.8 728.6,259.3C736.4,260.8 741.9,261.7 748.6,261.7C755.3,261.7 762,260.5 768.6,259.3C775.3,258.1 782,256.3 788.7,254.3C795.4,252.4 802,249.6 808.7,247.6C815.4,245.7 822.6,243.6 828.7,242.6C834.9,241.6 841.1,240.2 845.4,241.6C849.8,243 853.9,247.7 854.8,251C855.6,254.2 852.6,256.8 850.4,261C848.3,265.2 844.9,271.3 842.1,276C839.3,280.7 837.1,284.9 833.8,289.4C830.4,293.8 826.2,298.8 822.1,302.7C817.9,306.6 814.3,309.8 808.7,312.7C803.1,315.7 796.5,318 788.7,320.4C780.9,322.8 770.9,324.6 762,327.1C753.1,329.5 744.2,332.1 735.3,335.1C726.4,338.1 717.5,342.4 708.6,345.1C699.7,347.8 690.8,349.8 681.8,351.1C672.9,352.4 663.5,352.4 655.1,352.8C646.8,353.2 637.9,353 631.8,353.8C625.7,354.6 622.3,355.5 618.4,357.8C614.5,360.1 610.9,363.9 608.4,367.8C605.9,371.7 604.6,376.2 603.4,381.2C602.2,386.1 603,391.5 601.1,397.5C599.1,403.6 597.3,412 591.6,417.4C585.9,422.8 576.6,426.2 566.6,429.9C556.6,433.7 544.1,437 531.6,439.9C519.1,442.8 503.3,444.9 491.6,447.4C479.9,449.9 473.3,453.1 461.6,454.9C449.9,456.7 433.3,458.8 421.6,458.4C409.9,458 399.9,455.5 391.6,452.4C383.3,449.3 377.4,445.3 371.6,439.9C365.8,434.5 360.8,426.2 356.6,419.9C352.4,413.7 350.8,407 346.6,402.4C342.4,397.8 340.8,395.1 331.6,392.4C322.4,389.7 306.6,389.3 291.6,386.4C276.6,383.5 258.3,379.3 241.6,374.9C224.9,370.5 208.3,364.1 191.6,359.9C174.9,355.7 158.3,352.8 141.6,349.9C124.9,347 108.3,344.1 91.6,342.4C74.9,340.7 56.6,340.5 41.6,339.9C26.6,339.3 16.6,339.1 1.6,338.9C-13.4,338.7 -40.1,338.9 -48.4,338.9Z" fill="#c1ff36" stroke="#c1ff36" stroke-width="0.7"/>
<path d="M943.3,244.3C946.4,242.6 953.1,237.1 961.7,234.3C970.3,231.5 983.9,229.7 995.1,227.6C1006.2,225.5 1017.3,223.2 1028.4,221.6C1039.6,220 1050.7,218.8 1061.8,218.3C1073,217.7 1084.1,217.8 1095.2,218.3C1106.3,218.7 1117.5,220 1128.6,220.9C1139.7,221.8 1150.9,222.9 1162,223.6C1173.1,224.3 1184.2,224 1195.4,224.9C1206.5,225.9 1218.7,227.4 1228.8,229.3C1238.8,231.1 1247.1,233.4 1255.5,235.9C1263.8,238.5 1271,241.5 1278.8,244.3C1286.6,247.1 1293.6,250.4 1302.2,252.6C1310.8,254.9 1317.8,255.4 1330.6,257.6C1343.4,259.9 1370.9,264.6 1379,266L1379,337.8C1370.9,337.7 1344.5,337.4 1330.6,337.1C1316.7,336.8 1306.9,336.4 1295.5,336.1C1284.1,335.8 1273.3,335.9 1262.1,335.1C1251,334.3 1239.9,333.3 1228.8,331.1C1217.6,328.9 1204.8,324.5 1195.4,321.7C1185.9,319 1179.2,316.3 1172,314.4C1164.8,312.5 1158.6,311.1 1152,310.4C1145.3,309.7 1138.6,309.1 1131.9,310.1C1125.3,311 1118,314.3 1111.9,316.1C1105.8,317.8 1100.2,318.7 1095.2,320.4C1090.2,322.1 1085.8,323.2 1081.9,326.1C1078,329 1075.2,333.6 1071.8,337.8C1068.5,341.9 1068,347.1 1061.8,351.1C1055.7,355.1 1043.5,360.1 1035.1,361.8C1026.8,363.5 1019,362.1 1011.8,361.1C1004.5,360.2 997.3,358.4 991.7,356.1C986.2,353.9 981.6,351.4 978.4,347.8C975.1,344.2 973.2,338.9 972.4,334.4C971.5,330 972.4,325.5 973.4,321.1C974.4,316.6 977.8,312.2 978.4,307.7C978.9,303.3 978.1,299.4 976.7,294.4C975.3,289.4 973.1,283.2 970,277.7C967,272.1 962.8,266.6 958.3,261C953.9,255.4 945.8,247.1 943.3,244.3Z" fill="#c1ff36" stroke="#c1ff36" stroke-width="0.7"/>
<path d="M425.9,317.7L430.3,313.7L448.6,311.1L454.3,317.1L450.3,321.7L431.9,323.8L425.9,317.7Z" fill="#ff9400" stroke="#ff9400" stroke-width="0.7"/>
<use href="#coast"/>
</g>
<rect x="0" y="0" width="1331.2" height="655.7" fill="none" stroke="#000" stroke-width="3.33"/>
<text transform="translate(8.96,-24.60) scale(1.1136,1)" font-size="51" xml:space="preserve">Plasmasphere (h=1500.0 km), 2011-07-09 00:00 UT</text>
<rect x="0" y="699" width="1331.2" height="66" fill="#0000df"/>
<rect x="221.9" y="699" width="1109.3" height="66" fill="#0080ff"/>
<rect x="443.7" y="699" width="887.5" height="66" fill="#36ffc1"/>
<rect x="665.6" y="699" width="665.6" height="66" fill="#c1ff36"/>
<rect x="887.5" y="699" width="443.7" height="66" fill="#ff9400"/>
<rect x="1109.3" y="699" width="221.9" height="66" fill="#df0000"/>
<rect x="0" y="699" width="1331.2" height="66" fill="none" stroke="#000" stroke-width="3.33"/>
<line x1="0" y1="765" x2="0" y2="779.6" stroke="#000" stroke-width="3.33"/>
<text transform="translate(-31.78,826.30) scale(1.0533,1)" font-size="43.6" xml:space="preserve">0.0</text>
<line x1="221.9" y1="765" x2="221.9" y2="779.6" stroke="#000" stroke-width="3.33"/>
<text transform="translate(189.64,826.30) scale(1.0465,1)" font-size="43.6" xml:space="preserve">2.5</text>
<line x1="443.7" y1="765" x2="443.7" y2="779.6" stroke="#000" stroke-width="3.33"/>
<text transform="translate(412.00,826.30) scale(1.0525,1)" font-size="43.6" xml:space="preserve">5.0</text>
<line x1="665.6" y1="765" x2="665.6" y2="779.6" stroke="#000" stroke-width="3.33"/>
<text transform="translate(633.68,826.30) scale(1.0413,1)" font-size="43.6" xml:space="preserve">7.5</text>
<line x1="887.5" y1="765" x2="887.5" y2="779.6" stroke="#000" stroke-width="3.33"/>
<text transform="translate(842.42,826.30) scale(1.0644,1)" font-size="43.6" xml:space="preserve">10.0</text>
<line x1="1109.3" y1="765" x2="1109.3" y2="779.6" stroke="#000" stroke-width="3.33"/>
<text transform="translate(1064.42,826.30) scale(1.0532,1)" font-size="43.6" xml:space="preserve">12.5</text>
<line x1="1331.2" y1="765" x2="1331.2" y2="779.6" stroke="#000" stroke-width="3.33"/>
<text transform="translate(1286.15,826.30) scale(1.0644,1)" font-size="43.6" xml:space="preserve">15.0</text>
</g>
</svg>
</body></html>
